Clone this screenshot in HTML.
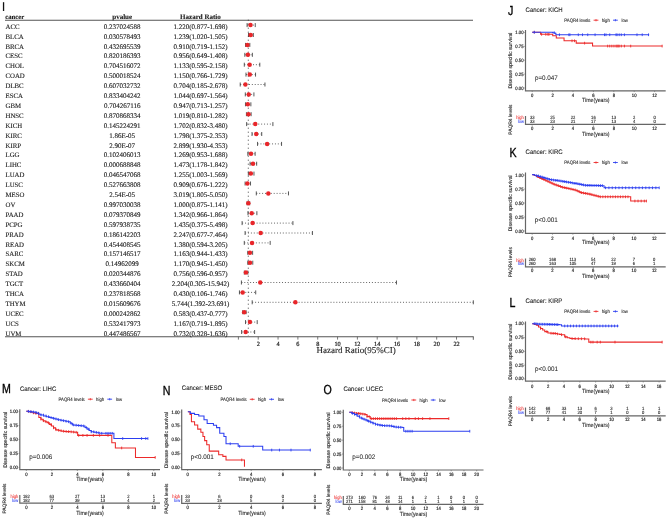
<!DOCTYPE html>
<html><head><meta charset="utf-8"><style>
html,body{margin:0;padding:0;background:#fff;width:668px;height:519px;overflow:hidden}
svg{display:block;filter:blur(0.3px)}
</style></head><body>
<svg width="668" height="519" viewBox="0 0 668 519" text-rendering="geometricPrecision">
<rect width="668" height="519" fill="#fff"/>
<rect x="2.9" y="2.2" width="1.3" height="8.8" fill="#111"/>
<g font-family='"Liberation Serif", serif' font-weight="bold" font-size="7.0" fill="#111" stroke="#111" stroke-width="0.08">
<text x="5.3" y="18.9" font-size="6.7">cancer</text>
<text x="122.2" y="18.9" text-anchor="middle">pvalue</text>
<text x="200.4" y="18.9" text-anchor="middle">Hazard Ratio</text>
</g>
<line x1="5" y1="20.3" x2="473" y2="20.3" stroke="#555" stroke-width="1.1"/>
<line x1="5" y1="336.7" x2="473.6" y2="336.7" stroke="#555" stroke-width="1.1"/>
<line x1="248.31" y1="19.7" x2="248.31" y2="336" stroke="#333" stroke-width="0.9" stroke-dasharray="1 3"/>
<g font-family='"Liberation Serif", serif' font-size="7.0" fill="#1a1a1a" stroke="#1a1a1a" stroke-width="0.12">
<text x="5.5" y="28.7" font-size="6.8">ACC</text>
<text x="122.2" y="28.7" text-anchor="middle">0.237024588</text>
<text x="200.5" y="28.7" text-anchor="middle">1.220(0.877-1.698)</text>
<text x="5.5" y="38.6" font-size="6.8">BLCA</text>
<text x="122.2" y="38.6" text-anchor="middle">0.030578493</text>
<text x="200.5" y="38.6" text-anchor="middle">1.239(1.020-1.505)</text>
<text x="5.5" y="48.5" font-size="6.8">BRCA</text>
<text x="122.2" y="48.5" text-anchor="middle">0.432695539</text>
<text x="200.5" y="48.5" text-anchor="middle">0.910(0.719-1.152)</text>
<text x="5.5" y="58.4" font-size="6.8">CESC</text>
<text x="122.2" y="58.4" text-anchor="middle">0.820186393</text>
<text x="200.5" y="58.4" text-anchor="middle">0.956(0.649-1.408)</text>
<text x="5.5" y="68.3" font-size="6.8">CHOL</text>
<text x="122.2" y="68.3" text-anchor="middle">0.704516072</text>
<text x="200.5" y="68.3" text-anchor="middle">1.133(0.595-2.158)</text>
<text x="5.5" y="78.2" font-size="6.8">COAD</text>
<text x="122.2" y="78.2" text-anchor="middle">0.500018524</text>
<text x="200.5" y="78.2" text-anchor="middle">1.150(0.766-1.729)</text>
<text x="5.5" y="88.1" font-size="6.8">DLBC</text>
<text x="122.2" y="88.1" text-anchor="middle">0.607032732</text>
<text x="200.5" y="88.1" text-anchor="middle">0.704(0.185-2.678)</text>
<text x="5.5" y="98" font-size="6.8">ESCA</text>
<text x="122.2" y="98" text-anchor="middle">0.833404242</text>
<text x="200.5" y="98" text-anchor="middle">1.044(0.697-1.564)</text>
<text x="5.5" y="107.9" font-size="6.8">GBM</text>
<text x="122.2" y="107.9" text-anchor="middle">0.704267116</text>
<text x="200.5" y="107.9" text-anchor="middle">0.947(0.713-1.257)</text>
<text x="5.5" y="117.8" font-size="6.8">HNSC</text>
<text x="122.2" y="117.8" text-anchor="middle">0.870868334</text>
<text x="200.5" y="117.8" text-anchor="middle">1.019(0.810-1.282)</text>
<text x="5.5" y="127.7" font-size="6.8">KICH</text>
<text x="122.2" y="127.7" text-anchor="middle">0.145224291</text>
<text x="200.5" y="127.7" text-anchor="middle">1.702(0.832-3.480)</text>
<text x="5.5" y="137.6" font-size="6.8">KIRC</text>
<text x="122.2" y="137.6" text-anchor="middle">1.86E-05</text>
<text x="200.5" y="137.6" text-anchor="middle">1.798(1.375-2.353)</text>
<text x="5.5" y="147.5" font-size="6.8">KIRP</text>
<text x="122.2" y="147.5" text-anchor="middle">2.90E-07</text>
<text x="200.5" y="147.5" text-anchor="middle">2.899(1.930-4.353)</text>
<text x="5.5" y="157.4" font-size="6.8">LGG</text>
<text x="122.2" y="157.4" text-anchor="middle">0.102406013</text>
<text x="200.5" y="157.4" text-anchor="middle">1.269(0.953-1.688)</text>
<text x="5.5" y="167.3" font-size="6.8">LIHC</text>
<text x="122.2" y="167.3" text-anchor="middle">0.000688848</text>
<text x="200.5" y="167.3" text-anchor="middle">1.473(1.178-1.842)</text>
<text x="5.5" y="177.2" font-size="6.8">LUAD</text>
<text x="122.2" y="177.2" text-anchor="middle">0.046547068</text>
<text x="200.5" y="177.2" text-anchor="middle">1.255(1.003-1.569)</text>
<text x="5.5" y="187.1" font-size="6.8">LUSC</text>
<text x="122.2" y="187.1" text-anchor="middle">0.527663808</text>
<text x="200.5" y="187.1" text-anchor="middle">0.909(0.676-1.222)</text>
<text x="5.5" y="197" font-size="6.8">MESO</text>
<text x="122.2" y="197" text-anchor="middle">2.54E-05</text>
<text x="200.5" y="197" text-anchor="middle">3.019(1.805-5.050)</text>
<text x="5.5" y="206.9" font-size="6.8">OV</text>
<text x="122.2" y="206.9" text-anchor="middle">0.997030038</text>
<text x="200.5" y="206.9" text-anchor="middle">1.000(0.875-1.141)</text>
<text x="5.5" y="216.8" font-size="6.8">PAAD</text>
<text x="122.2" y="216.8" text-anchor="middle">0.079370849</text>
<text x="200.5" y="216.8" text-anchor="middle">1.342(0.966-1.864)</text>
<text x="5.5" y="226.7" font-size="6.8">PCPG</text>
<text x="122.2" y="226.7" text-anchor="middle">0.597938735</text>
<text x="200.5" y="226.7" text-anchor="middle">1.435(0.375-5.498)</text>
<text x="5.5" y="236.6" font-size="6.8">PRAD</text>
<text x="122.2" y="236.6" text-anchor="middle">0.186142203</text>
<text x="200.5" y="236.6" text-anchor="middle">2.247(0.677-7.464)</text>
<text x="5.5" y="246.5" font-size="6.8">READ</text>
<text x="122.2" y="246.5" text-anchor="middle">0.454408545</text>
<text x="200.5" y="246.5" text-anchor="middle">1.380(0.594-3.205)</text>
<text x="5.5" y="256.4" font-size="6.8">SARC</text>
<text x="122.2" y="256.4" text-anchor="middle">0.157146517</text>
<text x="200.5" y="256.4" text-anchor="middle">1.163(0.944-1.433)</text>
<text x="5.5" y="266.3" font-size="6.8">SKCM</text>
<text x="122.2" y="266.3" text-anchor="middle">0.14962099</text>
<text x="200.5" y="266.3" text-anchor="middle">1.170(0.945-1.450)</text>
<text x="5.5" y="276.2" font-size="6.8">STAD</text>
<text x="122.2" y="276.2" text-anchor="middle">0.020344876</text>
<text x="200.5" y="276.2" text-anchor="middle">0.756(0.596-0.957)</text>
<text x="5.5" y="286.1" font-size="6.8">TGCT</text>
<text x="122.2" y="286.1" text-anchor="middle">0.433660404</text>
<text x="200.5" y="286.1" text-anchor="middle">2.204(0.305-15.942)</text>
<text x="5.5" y="296" font-size="6.8">THCA</text>
<text x="122.2" y="296" text-anchor="middle">0.237818568</text>
<text x="200.5" y="296" text-anchor="middle">0.430(0.106-1.746)</text>
<text x="5.5" y="305.9" font-size="6.8">THYM</text>
<text x="122.2" y="305.9" text-anchor="middle">0.015609676</text>
<text x="200.5" y="305.9" text-anchor="middle">5.744(1.392-23.691)</text>
<text x="5.5" y="315.8" font-size="6.8">UCEC</text>
<text x="122.2" y="315.8" text-anchor="middle">0.000242862</text>
<text x="200.5" y="315.8" text-anchor="middle">0.583(0.437-0.777)</text>
<text x="5.5" y="325.7" font-size="6.8">UCS</text>
<text x="122.2" y="325.7" text-anchor="middle">0.532417973</text>
<text x="200.5" y="325.7" text-anchor="middle">1.167(0.719-1.895)</text>
<text x="5.5" y="335.6" font-size="6.8">UVM</text>
<text x="122.2" y="335.6" text-anchor="middle">0.447486567</text>
<text x="200.5" y="335.6" text-anchor="middle">0.732(0.328-1.636)</text>
</g>
<line x1="247.1" y1="25.1" x2="255.24" y2="25.1" stroke="#555" stroke-width="0.9" stroke-dasharray="1 1.9"/>
<line x1="247.1" y1="23.1" x2="247.1" y2="27.1" stroke="#444" stroke-width="0.9"/>
<line x1="255.24" y1="23.1" x2="255.24" y2="27.1" stroke="#444" stroke-width="0.9"/>
<circle cx="250.5" cy="25.1" r="2.25" fill="#e8262a"/>
<line x1="248.51" y1="35" x2="253.32" y2="35" stroke="#555" stroke-width="0.9" stroke-dasharray="1 1.9"/>
<line x1="248.51" y1="33" x2="248.51" y2="37" stroke="#444" stroke-width="0.9"/>
<line x1="253.32" y1="33" x2="253.32" y2="37" stroke="#444" stroke-width="0.9"/>
<circle cx="250.68" cy="35" r="2.25" fill="#e8262a"/>
<line x1="245.53" y1="44.9" x2="249.82" y2="44.9" stroke="#555" stroke-width="0.9" stroke-dasharray="1 1.9"/>
<line x1="245.53" y1="42.9" x2="245.53" y2="46.9" stroke="#444" stroke-width="0.9"/>
<line x1="249.82" y1="42.9" x2="249.82" y2="46.9" stroke="#444" stroke-width="0.9"/>
<circle cx="247.42" cy="44.9" r="2.25" fill="#e8262a"/>
<line x1="244.83" y1="54.8" x2="252.36" y2="54.8" stroke="#555" stroke-width="0.9" stroke-dasharray="1 1.9"/>
<line x1="244.83" y1="52.8" x2="244.83" y2="56.8" stroke="#444" stroke-width="0.9"/>
<line x1="252.36" y1="52.8" x2="252.36" y2="56.8" stroke="#444" stroke-width="0.9"/>
<circle cx="247.88" cy="54.8" r="2.25" fill="#e8262a"/>
<line x1="244.3" y1="64.7" x2="259.8" y2="64.7" stroke="#555" stroke-width="0.9" stroke-dasharray="1 1.9"/>
<line x1="244.3" y1="62.7" x2="244.3" y2="66.7" stroke="#444" stroke-width="0.9"/>
<line x1="259.8" y1="62.7" x2="259.8" y2="66.7" stroke="#444" stroke-width="0.9"/>
<circle cx="249.63" cy="64.7" r="2.25" fill="#e8262a"/>
<line x1="245.99" y1="74.6" x2="255.54" y2="74.6" stroke="#555" stroke-width="0.9" stroke-dasharray="1 1.9"/>
<line x1="245.99" y1="72.6" x2="245.99" y2="76.6" stroke="#444" stroke-width="0.9"/>
<line x1="255.54" y1="72.6" x2="255.54" y2="76.6" stroke="#444" stroke-width="0.9"/>
<circle cx="249.8" cy="74.6" r="2.25" fill="#e8262a"/>
<line x1="240.23" y1="84.5" x2="264.95" y2="84.5" stroke="#555" stroke-width="0.9" stroke-dasharray="1 1.9"/>
<line x1="240.23" y1="82.5" x2="240.23" y2="86.5" stroke="#444" stroke-width="0.9"/>
<line x1="264.95" y1="82.5" x2="264.95" y2="86.5" stroke="#444" stroke-width="0.9"/>
<circle cx="245.38" cy="84.5" r="2.25" fill="#e8262a"/>
<line x1="245.31" y1="94.4" x2="253.91" y2="94.4" stroke="#555" stroke-width="0.9" stroke-dasharray="1 1.9"/>
<line x1="245.31" y1="92.4" x2="245.31" y2="96.4" stroke="#444" stroke-width="0.9"/>
<line x1="253.91" y1="92.4" x2="253.91" y2="96.4" stroke="#444" stroke-width="0.9"/>
<circle cx="248.75" cy="94.4" r="2.25" fill="#e8262a"/>
<line x1="245.47" y1="104.3" x2="250.86" y2="104.3" stroke="#555" stroke-width="0.9" stroke-dasharray="1 1.9"/>
<line x1="245.47" y1="102.3" x2="245.47" y2="106.3" stroke="#444" stroke-width="0.9"/>
<line x1="250.86" y1="102.3" x2="250.86" y2="106.3" stroke="#444" stroke-width="0.9"/>
<circle cx="247.79" cy="104.3" r="2.25" fill="#e8262a"/>
<line x1="246.43" y1="114.2" x2="251.11" y2="114.2" stroke="#555" stroke-width="0.9" stroke-dasharray="1 1.9"/>
<line x1="246.43" y1="112.2" x2="246.43" y2="116.2" stroke="#444" stroke-width="0.9"/>
<line x1="251.11" y1="112.2" x2="251.11" y2="116.2" stroke="#444" stroke-width="0.9"/>
<circle cx="248.5" cy="114.2" r="2.25" fill="#e8262a"/>
<line x1="246.65" y1="124.1" x2="272.9" y2="124.1" stroke="#555" stroke-width="0.9" stroke-dasharray="1 1.9"/>
<line x1="246.65" y1="122.1" x2="246.65" y2="126.1" stroke="#444" stroke-width="0.9"/>
<line x1="272.9" y1="122.1" x2="272.9" y2="126.1" stroke="#444" stroke-width="0.9"/>
<circle cx="255.28" cy="124.1" r="2.25" fill="#e8262a"/>
<line x1="252.03" y1="134" x2="261.73" y2="134" stroke="#555" stroke-width="0.9" stroke-dasharray="1 1.9"/>
<line x1="252.03" y1="132" x2="252.03" y2="136" stroke="#444" stroke-width="0.9"/>
<line x1="261.73" y1="132" x2="261.73" y2="136" stroke="#444" stroke-width="0.9"/>
<circle cx="256.23" cy="134" r="2.25" fill="#e8262a"/>
<line x1="257.54" y1="143.9" x2="281.56" y2="143.9" stroke="#555" stroke-width="0.9" stroke-dasharray="1 1.9"/>
<line x1="257.54" y1="141.9" x2="257.54" y2="145.9" stroke="#444" stroke-width="0.9"/>
<line x1="281.56" y1="141.9" x2="281.56" y2="145.9" stroke="#444" stroke-width="0.9"/>
<circle cx="267.14" cy="143.9" r="2.25" fill="#e8262a"/>
<line x1="247.85" y1="153.8" x2="255.14" y2="153.8" stroke="#555" stroke-width="0.9" stroke-dasharray="1 1.9"/>
<line x1="247.85" y1="151.8" x2="247.85" y2="155.8" stroke="#444" stroke-width="0.9"/>
<line x1="255.14" y1="151.8" x2="255.14" y2="155.8" stroke="#444" stroke-width="0.9"/>
<circle cx="250.98" cy="153.8" r="2.25" fill="#e8262a"/>
<line x1="250.08" y1="163.7" x2="256.66" y2="163.7" stroke="#555" stroke-width="0.9" stroke-dasharray="1 1.9"/>
<line x1="250.08" y1="161.7" x2="250.08" y2="165.7" stroke="#444" stroke-width="0.9"/>
<line x1="256.66" y1="161.7" x2="256.66" y2="165.7" stroke="#444" stroke-width="0.9"/>
<circle cx="253" cy="163.7" r="2.25" fill="#e8262a"/>
<line x1="248.34" y1="173.6" x2="253.96" y2="173.6" stroke="#555" stroke-width="0.9" stroke-dasharray="1 1.9"/>
<line x1="248.34" y1="171.6" x2="248.34" y2="175.6" stroke="#444" stroke-width="0.9"/>
<line x1="253.96" y1="171.6" x2="253.96" y2="175.6" stroke="#444" stroke-width="0.9"/>
<circle cx="250.84" cy="173.6" r="2.25" fill="#e8262a"/>
<line x1="245.1" y1="183.5" x2="250.52" y2="183.5" stroke="#555" stroke-width="0.9" stroke-dasharray="1 1.9"/>
<line x1="245.1" y1="181.5" x2="245.1" y2="185.5" stroke="#444" stroke-width="0.9"/>
<line x1="250.52" y1="181.5" x2="250.52" y2="185.5" stroke="#444" stroke-width="0.9"/>
<circle cx="247.41" cy="183.5" r="2.25" fill="#e8262a"/>
<line x1="256.3" y1="193.4" x2="288.47" y2="193.4" stroke="#555" stroke-width="0.9" stroke-dasharray="1 1.9"/>
<line x1="256.3" y1="191.4" x2="256.3" y2="195.4" stroke="#444" stroke-width="0.9"/>
<line x1="288.47" y1="191.4" x2="288.47" y2="195.4" stroke="#444" stroke-width="0.9"/>
<circle cx="268.33" cy="193.4" r="2.25" fill="#e8262a"/>
<line x1="247.08" y1="203.3" x2="249.71" y2="203.3" stroke="#555" stroke-width="0.9" stroke-dasharray="1 1.9"/>
<line x1="247.08" y1="201.3" x2="247.08" y2="205.3" stroke="#444" stroke-width="0.9"/>
<line x1="249.71" y1="201.3" x2="249.71" y2="205.3" stroke="#444" stroke-width="0.9"/>
<circle cx="248.31" cy="203.3" r="2.25" fill="#e8262a"/>
<line x1="247.98" y1="213.2" x2="256.88" y2="213.2" stroke="#555" stroke-width="0.9" stroke-dasharray="1 1.9"/>
<line x1="247.98" y1="211.2" x2="247.98" y2="215.2" stroke="#444" stroke-width="0.9"/>
<line x1="256.88" y1="211.2" x2="256.88" y2="215.2" stroke="#444" stroke-width="0.9"/>
<circle cx="251.71" cy="213.2" r="2.25" fill="#e8262a"/>
<line x1="242.12" y1="223.1" x2="292.91" y2="223.1" stroke="#555" stroke-width="0.9" stroke-dasharray="1 1.9"/>
<line x1="242.12" y1="221.1" x2="242.12" y2="225.1" stroke="#444" stroke-width="0.9"/>
<line x1="292.91" y1="221.1" x2="292.91" y2="225.1" stroke="#444" stroke-width="0.9"/>
<circle cx="252.63" cy="223.1" r="2.25" fill="#e8262a"/>
<line x1="245.11" y1="233" x2="312.41" y2="233" stroke="#555" stroke-width="0.9" stroke-dasharray="1 1.9"/>
<line x1="245.11" y1="231" x2="245.11" y2="235" stroke="#444" stroke-width="0.9"/>
<line x1="312.41" y1="231" x2="312.41" y2="235" stroke="#444" stroke-width="0.9"/>
<circle cx="260.68" cy="233" r="2.25" fill="#e8262a"/>
<line x1="244.29" y1="242.9" x2="270.18" y2="242.9" stroke="#555" stroke-width="0.9" stroke-dasharray="1 1.9"/>
<line x1="244.29" y1="240.9" x2="244.29" y2="244.9" stroke="#444" stroke-width="0.9"/>
<line x1="270.18" y1="240.9" x2="270.18" y2="244.9" stroke="#444" stroke-width="0.9"/>
<circle cx="252.08" cy="242.9" r="2.25" fill="#e8262a"/>
<line x1="247.76" y1="252.8" x2="252.61" y2="252.8" stroke="#555" stroke-width="0.9" stroke-dasharray="1 1.9"/>
<line x1="247.76" y1="250.8" x2="247.76" y2="254.8" stroke="#444" stroke-width="0.9"/>
<line x1="252.61" y1="250.8" x2="252.61" y2="254.8" stroke="#444" stroke-width="0.9"/>
<circle cx="249.93" cy="252.8" r="2.25" fill="#e8262a"/>
<line x1="247.77" y1="262.7" x2="252.78" y2="262.7" stroke="#555" stroke-width="0.9" stroke-dasharray="1 1.9"/>
<line x1="247.77" y1="260.7" x2="247.77" y2="264.7" stroke="#444" stroke-width="0.9"/>
<line x1="252.78" y1="260.7" x2="252.78" y2="264.7" stroke="#444" stroke-width="0.9"/>
<circle cx="250" cy="262.7" r="2.25" fill="#e8262a"/>
<line x1="244.31" y1="272.6" x2="247.89" y2="272.6" stroke="#555" stroke-width="0.9" stroke-dasharray="1 1.9"/>
<line x1="244.31" y1="270.6" x2="244.31" y2="274.6" stroke="#444" stroke-width="0.9"/>
<line x1="247.89" y1="270.6" x2="247.89" y2="274.6" stroke="#444" stroke-width="0.9"/>
<circle cx="245.9" cy="272.6" r="2.25" fill="#e8262a"/>
<line x1="241.42" y1="282.5" x2="396.46" y2="282.5" stroke="#555" stroke-width="0.9" stroke-dasharray="1 1.9"/>
<line x1="241.42" y1="280.5" x2="241.42" y2="284.5" stroke="#444" stroke-width="0.9"/>
<line x1="396.46" y1="280.5" x2="396.46" y2="284.5" stroke="#444" stroke-width="0.9"/>
<circle cx="260.25" cy="282.5" r="2.25" fill="#e8262a"/>
<line x1="239.45" y1="292.4" x2="255.71" y2="292.4" stroke="#555" stroke-width="0.9" stroke-dasharray="1 1.9"/>
<line x1="239.45" y1="290.4" x2="239.45" y2="294.4" stroke="#444" stroke-width="0.9"/>
<line x1="255.71" y1="290.4" x2="255.71" y2="294.4" stroke="#444" stroke-width="0.9"/>
<circle cx="242.66" cy="292.4" r="2.25" fill="#e8262a"/>
<line x1="252.2" y1="302.3" x2="473.3" y2="302.3" stroke="#555" stroke-width="0.9" stroke-dasharray="1 1.9"/>
<line x1="252.2" y1="300.3" x2="252.2" y2="304.3" stroke="#444" stroke-width="0.9"/>
<line x1="473.3" y1="300.3" x2="473.3" y2="304.3" stroke="#444" stroke-width="0.9"/>
<circle cx="295.35" cy="302.3" r="2.25" fill="#e8262a"/>
<line x1="242.73" y1="312.2" x2="246.1" y2="312.2" stroke="#555" stroke-width="0.9" stroke-dasharray="1 1.9"/>
<line x1="242.73" y1="310.2" x2="242.73" y2="314.2" stroke="#444" stroke-width="0.9"/>
<line x1="246.1" y1="310.2" x2="246.1" y2="314.2" stroke="#444" stroke-width="0.9"/>
<circle cx="244.18" cy="312.2" r="2.25" fill="#e8262a"/>
<line x1="245.53" y1="322.1" x2="257.19" y2="322.1" stroke="#555" stroke-width="0.9" stroke-dasharray="1 1.9"/>
<line x1="245.53" y1="320.1" x2="245.53" y2="324.1" stroke="#444" stroke-width="0.9"/>
<line x1="257.19" y1="320.1" x2="257.19" y2="324.1" stroke="#444" stroke-width="0.9"/>
<circle cx="249.97" cy="322.1" r="2.25" fill="#e8262a"/>
<line x1="241.65" y1="332" x2="254.62" y2="332" stroke="#555" stroke-width="0.9" stroke-dasharray="1 1.9"/>
<line x1="241.65" y1="330" x2="241.65" y2="334" stroke="#444" stroke-width="0.9"/>
<line x1="254.62" y1="330" x2="254.62" y2="334" stroke="#444" stroke-width="0.9"/>
<circle cx="245.66" cy="332" r="2.25" fill="#e8262a"/>
<line x1="238.4" y1="336.7" x2="238.4" y2="339.6" stroke="#555" stroke-width="0.8"/>
<line x1="258.23" y1="336.7" x2="258.23" y2="339.6" stroke="#555" stroke-width="0.8"/>
<line x1="278.06" y1="336.7" x2="278.06" y2="339.6" stroke="#555" stroke-width="0.8"/>
<line x1="297.89" y1="336.7" x2="297.89" y2="339.6" stroke="#555" stroke-width="0.8"/>
<line x1="317.72" y1="336.7" x2="317.72" y2="339.6" stroke="#555" stroke-width="0.8"/>
<line x1="337.55" y1="336.7" x2="337.55" y2="339.6" stroke="#555" stroke-width="0.8"/>
<line x1="357.38" y1="336.7" x2="357.38" y2="339.6" stroke="#555" stroke-width="0.8"/>
<line x1="377.21" y1="336.7" x2="377.21" y2="339.6" stroke="#555" stroke-width="0.8"/>
<line x1="397.04" y1="336.7" x2="397.04" y2="339.6" stroke="#555" stroke-width="0.8"/>
<line x1="416.87" y1="336.7" x2="416.87" y2="339.6" stroke="#555" stroke-width="0.8"/>
<line x1="436.7" y1="336.7" x2="436.7" y2="339.6" stroke="#555" stroke-width="0.8"/>
<line x1="456.53" y1="336.7" x2="456.53" y2="339.6" stroke="#555" stroke-width="0.8"/>
<line x1="473.3" y1="336.7" x2="473.3" y2="339.8" stroke="#333" stroke-width="0.8"/>
<g font-family='"Liberation Serif", serif' font-size="6.3" fill="#222" stroke="#222" stroke-width="0.2" text-anchor="middle">
<text x="258.23" y="346.2">2</text>
<text x="278.06" y="346.2">4</text>
<text x="297.89" y="346.2">6</text>
<text x="317.72" y="346.2">8</text>
<text x="337.55" y="346.2">10</text>
<text x="357.38" y="346.2">12</text>
<text x="377.21" y="346.2">14</text>
<text x="397.04" y="346.2">16</text>
<text x="416.87" y="346.2">18</text>
<text x="436.7" y="346.2">20</text>
<text x="456.53" y="346.2">22</text>
</g>
<text x="356.2" y="353.2" font-family='"Liberation Serif", serif' font-size="9" fill="#222" stroke="#222" stroke-width="0.1" text-anchor="middle">Hazard Ratio(95%CI)</text>
<g font-family='"Liberation Sans", sans-serif'>
<text transform="translate(508,15) scale(0.95,1.17)" font-size="11.2" fill="#000" stroke="#000" stroke-width="0.3">J</text>
<text transform="translate(525.6,11.5) scale(1,1.1)" font-size="6.0" fill="#222" stroke="#222" stroke-width="0.1">Cancer: KICH</text>
<text transform="translate(564.3,21.7) scale(1,1.15)" font-size="4.25" fill="#222" stroke="#222" stroke-width="0.08">PAQR4 levels</text>
<text transform="translate(601.8,21.7) scale(1,1.15)" font-size="4.25" fill="#222" stroke="#222" stroke-width="0.08">high</text>
<text transform="translate(621.5,21.7) scale(1,1.15)" font-size="4.25" fill="#222" stroke="#222" stroke-width="0.08">low</text>
<line x1="593.6" y1="20.2" x2="598.4" y2="20.2" stroke="#ec2a2a" stroke-width="0.9"/>
<line x1="596" y1="19.1" x2="596" y2="21.3" stroke="#ec2a2a" stroke-width="0.8"/>
<line x1="613" y1="20.2" x2="617.8" y2="20.2" stroke="#2c3ff0" stroke-width="0.9"/>
<line x1="615.4" y1="19.1" x2="615.4" y2="21.3" stroke="#2c3ff0" stroke-width="0.8"/>
<path d="M525.5 30 L525.5 90.8 L665.7 90.8" fill="none" stroke="#666" stroke-width="1.2"/>
<text transform="translate(523.5,89.5) scale(1,1.15)" font-size="4.2" fill="#222" stroke="#222" stroke-width="0.16" text-anchor="end">0.00</text>
<line x1="524.2" y1="88" x2="525.5" y2="88" stroke="#666" stroke-width="0.6"/>
<text transform="translate(523.5,75.62) scale(1,1.15)" font-size="4.2" fill="#222" stroke="#222" stroke-width="0.16" text-anchor="end">0.25</text>
<line x1="524.2" y1="74.12" x2="525.5" y2="74.12" stroke="#666" stroke-width="0.6"/>
<text transform="translate(523.5,61.75) scale(1,1.15)" font-size="4.2" fill="#222" stroke="#222" stroke-width="0.16" text-anchor="end">0.50</text>
<line x1="524.2" y1="60.25" x2="525.5" y2="60.25" stroke="#666" stroke-width="0.6"/>
<text transform="translate(523.5,47.88) scale(1,1.15)" font-size="4.2" fill="#222" stroke="#222" stroke-width="0.16" text-anchor="end">0.75</text>
<line x1="524.2" y1="46.38" x2="525.5" y2="46.38" stroke="#666" stroke-width="0.6"/>
<text transform="translate(523.5,34) scale(1,1.15)" font-size="4.2" fill="#222" stroke="#222" stroke-width="0.16" text-anchor="end">1.00</text>
<line x1="524.2" y1="32.5" x2="525.5" y2="32.5" stroke="#666" stroke-width="0.6"/>
<text transform="translate(532.2,96.6) scale(1,1.15)" font-size="4.2" fill="#222" stroke="#222" stroke-width="0.16" text-anchor="middle">0</text>
<line x1="532.2" y1="90.8" x2="532.2" y2="92.1" stroke="#666" stroke-width="0.6"/>
<text transform="translate(552.6,96.6) scale(1,1.15)" font-size="4.2" fill="#222" stroke="#222" stroke-width="0.16" text-anchor="middle">2</text>
<line x1="552.6" y1="90.8" x2="552.6" y2="92.1" stroke="#666" stroke-width="0.6"/>
<text transform="translate(573,96.6) scale(1,1.15)" font-size="4.2" fill="#222" stroke="#222" stroke-width="0.16" text-anchor="middle">4</text>
<line x1="573" y1="90.8" x2="573" y2="92.1" stroke="#666" stroke-width="0.6"/>
<text transform="translate(593.4,96.6) scale(1,1.15)" font-size="4.2" fill="#222" stroke="#222" stroke-width="0.16" text-anchor="middle">6</text>
<line x1="593.4" y1="90.8" x2="593.4" y2="92.1" stroke="#666" stroke-width="0.6"/>
<text transform="translate(613.8,96.6) scale(1,1.15)" font-size="4.2" fill="#222" stroke="#222" stroke-width="0.16" text-anchor="middle">8</text>
<line x1="613.8" y1="90.8" x2="613.8" y2="92.1" stroke="#666" stroke-width="0.6"/>
<text transform="translate(634.2,96.6) scale(1,1.15)" font-size="4.2" fill="#222" stroke="#222" stroke-width="0.16" text-anchor="middle">10</text>
<line x1="634.2" y1="90.8" x2="634.2" y2="92.1" stroke="#666" stroke-width="0.6"/>
<text transform="translate(654.6,96.6) scale(1,1.15)" font-size="4.2" fill="#222" stroke="#222" stroke-width="0.16" text-anchor="middle">12</text>
<line x1="654.6" y1="90.8" x2="654.6" y2="92.1" stroke="#666" stroke-width="0.6"/>
<text transform="translate(595.8,101.9) scale(1,1.15)" font-size="5.2" fill="#222" stroke="#222" stroke-width="0.08" text-anchor="middle">Time(years)</text>
<text transform="translate(512.2,60.55) rotate(-90) scale(1,1)" font-size="5.15" fill="#222" stroke="#222" stroke-width="0.12" text-anchor="middle">Disease specific survival</text>
<text transform="translate(534.9,79.6) scale(1,1.05)" font-size="6.3" fill="#222" stroke="#222" stroke-width="0.05">p=0.047</text>
<path d="M532.19 32.24 L540.58 32.24 L540.58 34.34 L552.73 34.34 L552.73 35.8 L556.3 35.8 L556.3 37.9 L564.05 37.9 L564.05 40.83 L576.21 40.83 L576.21 43.14 L592.56 43.14 L592.56 46.07 L662.14 46.07" fill="none" stroke="#ec2a2a" stroke-width="1.05"/>
<line x1="534.29" y1="30.89" x2="534.29" y2="33.59" stroke="#ec2a2a" stroke-width="0.9"/>
<line x1="541.62" y1="32.99" x2="541.62" y2="35.69" stroke="#ec2a2a" stroke-width="0.9"/>
<line x1="545.82" y1="32.99" x2="545.82" y2="35.69" stroke="#ec2a2a" stroke-width="0.9"/>
<line x1="547.91" y1="32.99" x2="547.91" y2="35.69" stroke="#ec2a2a" stroke-width="0.9"/>
<line x1="548.96" y1="32.99" x2="548.96" y2="35.69" stroke="#ec2a2a" stroke-width="0.9"/>
<line x1="572.02" y1="39.48" x2="572.02" y2="42.18" stroke="#ec2a2a" stroke-width="0.9"/>
<line x1="574.53" y1="39.48" x2="574.53" y2="42.18" stroke="#ec2a2a" stroke-width="0.9"/>
<line x1="584.59" y1="41.79" x2="584.59" y2="44.49" stroke="#ec2a2a" stroke-width="0.9"/>
<line x1="607.65" y1="44.72" x2="607.65" y2="47.42" stroke="#ec2a2a" stroke-width="0.9"/>
<line x1="609.74" y1="44.72" x2="609.74" y2="47.42" stroke="#ec2a2a" stroke-width="0.9"/>
<line x1="611.84" y1="44.72" x2="611.84" y2="47.42" stroke="#ec2a2a" stroke-width="0.9"/>
<line x1="613.94" y1="44.72" x2="613.94" y2="47.42" stroke="#ec2a2a" stroke-width="0.9"/>
<line x1="616.03" y1="44.72" x2="616.03" y2="47.42" stroke="#ec2a2a" stroke-width="0.9"/>
<line x1="617.08" y1="44.72" x2="617.08" y2="47.42" stroke="#ec2a2a" stroke-width="0.9"/>
<line x1="618.13" y1="44.72" x2="618.13" y2="47.42" stroke="#ec2a2a" stroke-width="0.9"/>
<line x1="619.18" y1="44.72" x2="619.18" y2="47.42" stroke="#ec2a2a" stroke-width="0.9"/>
<line x1="621.27" y1="44.72" x2="621.27" y2="47.42" stroke="#ec2a2a" stroke-width="0.9"/>
<line x1="624.42" y1="44.72" x2="624.42" y2="47.42" stroke="#ec2a2a" stroke-width="0.9"/>
<line x1="630.7" y1="44.72" x2="630.7" y2="47.42" stroke="#ec2a2a" stroke-width="0.9"/>
<line x1="662.14" y1="44.72" x2="662.14" y2="47.42" stroke="#ec2a2a" stroke-width="0.9"/>
<path d="M532.19 32.24 L552.73 32.24 L552.73 32.66 L554.83 32.66 L554.83 33.29 L555.88 33.29 L555.88 34.76 L649.15 34.76" fill="none" stroke="#2c3ff0" stroke-width="1.05"/>
<line x1="534.29" y1="30.89" x2="534.29" y2="33.59" stroke="#2c3ff0" stroke-width="0.9"/>
<line x1="554.2" y1="31.31" x2="554.2" y2="34.01" stroke="#2c3ff0" stroke-width="0.9"/>
<line x1="559.44" y1="33.41" x2="559.44" y2="36.11" stroke="#2c3ff0" stroke-width="0.9"/>
<line x1="568.87" y1="33.41" x2="568.87" y2="36.11" stroke="#2c3ff0" stroke-width="0.9"/>
<line x1="569.92" y1="33.41" x2="569.92" y2="36.11" stroke="#2c3ff0" stroke-width="0.9"/>
<line x1="578.3" y1="33.41" x2="578.3" y2="36.11" stroke="#2c3ff0" stroke-width="0.9"/>
<line x1="582.5" y1="33.41" x2="582.5" y2="36.11" stroke="#2c3ff0" stroke-width="0.9"/>
<line x1="587.74" y1="33.41" x2="587.74" y2="36.11" stroke="#2c3ff0" stroke-width="0.9"/>
<line x1="595.07" y1="33.41" x2="595.07" y2="36.11" stroke="#2c3ff0" stroke-width="0.9"/>
<line x1="604.5" y1="33.41" x2="604.5" y2="36.11" stroke="#2c3ff0" stroke-width="0.9"/>
<line x1="605.97" y1="33.41" x2="605.97" y2="36.11" stroke="#2c3ff0" stroke-width="0.9"/>
<line x1="609.74" y1="33.41" x2="609.74" y2="36.11" stroke="#2c3ff0" stroke-width="0.9"/>
<line x1="616.03" y1="33.41" x2="616.03" y2="36.11" stroke="#2c3ff0" stroke-width="0.9"/>
<line x1="617.08" y1="33.41" x2="617.08" y2="36.11" stroke="#2c3ff0" stroke-width="0.9"/>
<line x1="619.18" y1="33.41" x2="619.18" y2="36.11" stroke="#2c3ff0" stroke-width="0.9"/>
<line x1="621.27" y1="33.41" x2="621.27" y2="36.11" stroke="#2c3ff0" stroke-width="0.9"/>
<line x1="624.42" y1="33.41" x2="624.42" y2="36.11" stroke="#2c3ff0" stroke-width="0.9"/>
<line x1="636.99" y1="33.41" x2="636.99" y2="36.11" stroke="#2c3ff0" stroke-width="0.9"/>
<line x1="642.23" y1="33.41" x2="642.23" y2="36.11" stroke="#2c3ff0" stroke-width="0.9"/>
<line x1="648.52" y1="33.41" x2="648.52" y2="36.11" stroke="#2c3ff0" stroke-width="0.9"/>
<path d="M525.5 116 L525.5 124.3 L665.7 124.3" fill="none" stroke="#666" stroke-width="1.2"/>
<text transform="translate(523.9,118.95) scale(1,1.15)" font-size="4.1" fill="#ec2a2a" stroke="#ec2a2a" stroke-width="0.06" text-anchor="end">high</text>
<text transform="translate(523.9,122.75) scale(1,1.15)" font-size="4.1" fill="#2c3ff0" stroke="#2c3ff0" stroke-width="0.06" text-anchor="end">low</text>
<text transform="translate(532.2,118.85) scale(1,1.15)" font-size="4.1" fill="#222" stroke="#222" stroke-width="0.1" text-anchor="middle">33</text>
<text transform="translate(532.2,122.65) scale(1,1.15)" font-size="4.1" fill="#222" stroke="#222" stroke-width="0.1" text-anchor="middle">33</text>
<line x1="532.2" y1="124.3" x2="532.2" y2="125.6" stroke="#666" stroke-width="0.6"/>
<text transform="translate(532.2,129.6) scale(1,1.15)" font-size="4.2" fill="#222" stroke="#222" stroke-width="0.16" text-anchor="middle">0</text>
<text transform="translate(552.6,118.85) scale(1,1.15)" font-size="4.1" fill="#222" stroke="#222" stroke-width="0.1" text-anchor="middle">25</text>
<text transform="translate(552.6,122.65) scale(1,1.15)" font-size="4.1" fill="#222" stroke="#222" stroke-width="0.1" text-anchor="middle">23</text>
<line x1="552.6" y1="124.3" x2="552.6" y2="125.6" stroke="#666" stroke-width="0.6"/>
<text transform="translate(552.6,129.6) scale(1,1.15)" font-size="4.2" fill="#222" stroke="#222" stroke-width="0.16" text-anchor="middle">2</text>
<text transform="translate(573,118.85) scale(1,1.15)" font-size="4.1" fill="#222" stroke="#222" stroke-width="0.1" text-anchor="middle">22</text>
<text transform="translate(573,122.65) scale(1,1.15)" font-size="4.1" fill="#222" stroke="#222" stroke-width="0.1" text-anchor="middle">21</text>
<line x1="573" y1="124.3" x2="573" y2="125.6" stroke="#666" stroke-width="0.6"/>
<text transform="translate(573,129.6) scale(1,1.15)" font-size="4.2" fill="#222" stroke="#222" stroke-width="0.16" text-anchor="middle">4</text>
<text transform="translate(593.4,118.85) scale(1,1.15)" font-size="4.1" fill="#222" stroke="#222" stroke-width="0.1" text-anchor="middle">16</text>
<text transform="translate(593.4,122.65) scale(1,1.15)" font-size="4.1" fill="#222" stroke="#222" stroke-width="0.1" text-anchor="middle">17</text>
<line x1="593.4" y1="124.3" x2="593.4" y2="125.6" stroke="#666" stroke-width="0.6"/>
<text transform="translate(593.4,129.6) scale(1,1.15)" font-size="4.2" fill="#222" stroke="#222" stroke-width="0.16" text-anchor="middle">6</text>
<text transform="translate(613.8,118.85) scale(1,1.15)" font-size="4.1" fill="#222" stroke="#222" stroke-width="0.1" text-anchor="middle">13</text>
<text transform="translate(613.8,122.65) scale(1,1.15)" font-size="4.1" fill="#222" stroke="#222" stroke-width="0.1" text-anchor="middle">13</text>
<line x1="613.8" y1="124.3" x2="613.8" y2="125.6" stroke="#666" stroke-width="0.6"/>
<text transform="translate(613.8,129.6) scale(1,1.15)" font-size="4.2" fill="#222" stroke="#222" stroke-width="0.16" text-anchor="middle">8</text>
<text transform="translate(634.2,118.85) scale(1,1.15)" font-size="4.1" fill="#222" stroke="#222" stroke-width="0.1" text-anchor="middle">2</text>
<text transform="translate(634.2,122.65) scale(1,1.15)" font-size="4.1" fill="#222" stroke="#222" stroke-width="0.1" text-anchor="middle">4</text>
<line x1="634.2" y1="124.3" x2="634.2" y2="125.6" stroke="#666" stroke-width="0.6"/>
<text transform="translate(634.2,129.6) scale(1,1.15)" font-size="4.2" fill="#222" stroke="#222" stroke-width="0.16" text-anchor="middle">10</text>
<text transform="translate(654.6,118.85) scale(1,1.15)" font-size="4.1" fill="#222" stroke="#222" stroke-width="0.1" text-anchor="middle">0</text>
<text transform="translate(654.6,122.65) scale(1,1.15)" font-size="4.1" fill="#222" stroke="#222" stroke-width="0.1" text-anchor="middle">0</text>
<line x1="654.6" y1="124.3" x2="654.6" y2="125.6" stroke="#666" stroke-width="0.6"/>
<text transform="translate(654.6,129.6) scale(1,1.15)" font-size="4.2" fill="#222" stroke="#222" stroke-width="0.16" text-anchor="middle">12</text>
<text transform="translate(595.8,135.7) scale(1,1.15)" font-size="5.2" fill="#222" stroke="#222" stroke-width="0.08" text-anchor="middle">Time(years)</text>
<text transform="translate(511.9,119.6) rotate(-90) scale(1,1)" font-size="4.9" fill="#222" stroke="#222" stroke-width="0.12" text-anchor="middle">PAQR4 levels</text>
</g>
<g font-family='"Liberation Sans", sans-serif'>
<text transform="translate(509.6,157) scale(0.95,1.17)" font-size="11.2" fill="#000" stroke="#000" stroke-width="0.3">K</text>
<text transform="translate(525.6,153.8) scale(1,1.1)" font-size="6.0" fill="#222" stroke="#222" stroke-width="0.1">Cancer: KIRC</text>
<text transform="translate(564.3,164) scale(1,1.15)" font-size="4.25" fill="#222" stroke="#222" stroke-width="0.08">PAQR4 levels</text>
<text transform="translate(601.8,164) scale(1,1.15)" font-size="4.25" fill="#222" stroke="#222" stroke-width="0.08">high</text>
<text transform="translate(621.5,164) scale(1,1.15)" font-size="4.25" fill="#222" stroke="#222" stroke-width="0.08">low</text>
<line x1="593.6" y1="162.5" x2="598.4" y2="162.5" stroke="#ec2a2a" stroke-width="0.9"/>
<line x1="596" y1="161.4" x2="596" y2="163.6" stroke="#ec2a2a" stroke-width="0.8"/>
<line x1="613" y1="162.5" x2="617.8" y2="162.5" stroke="#2c3ff0" stroke-width="0.9"/>
<line x1="615.4" y1="161.4" x2="615.4" y2="163.6" stroke="#2c3ff0" stroke-width="0.8"/>
<path d="M525.5 172.6 L525.5 233.4 L665.7 233.4" fill="none" stroke="#666" stroke-width="1.2"/>
<text transform="translate(523.5,232.5) scale(1,1.15)" font-size="4.2" fill="#222" stroke="#222" stroke-width="0.16" text-anchor="end">0.00</text>
<line x1="524.2" y1="231" x2="525.5" y2="231" stroke="#666" stroke-width="0.6"/>
<text transform="translate(523.5,218.53) scale(1,1.15)" font-size="4.2" fill="#222" stroke="#222" stroke-width="0.16" text-anchor="end">0.25</text>
<line x1="524.2" y1="217.03" x2="525.5" y2="217.03" stroke="#666" stroke-width="0.6"/>
<text transform="translate(523.5,204.55) scale(1,1.15)" font-size="4.2" fill="#222" stroke="#222" stroke-width="0.16" text-anchor="end">0.50</text>
<line x1="524.2" y1="203.05" x2="525.5" y2="203.05" stroke="#666" stroke-width="0.6"/>
<text transform="translate(523.5,190.57) scale(1,1.15)" font-size="4.2" fill="#222" stroke="#222" stroke-width="0.16" text-anchor="end">0.75</text>
<line x1="524.2" y1="189.07" x2="525.5" y2="189.07" stroke="#666" stroke-width="0.6"/>
<text transform="translate(523.5,176.6) scale(1,1.15)" font-size="4.2" fill="#222" stroke="#222" stroke-width="0.16" text-anchor="end">1.00</text>
<line x1="524.2" y1="175.1" x2="525.5" y2="175.1" stroke="#666" stroke-width="0.6"/>
<text transform="translate(532.2,239.6) scale(1,1.15)" font-size="4.2" fill="#222" stroke="#222" stroke-width="0.16" text-anchor="middle">0</text>
<line x1="532.2" y1="233.4" x2="532.2" y2="234.7" stroke="#666" stroke-width="0.6"/>
<text transform="translate(552.54,239.6) scale(1,1.15)" font-size="4.2" fill="#222" stroke="#222" stroke-width="0.16" text-anchor="middle">2</text>
<line x1="552.54" y1="233.4" x2="552.54" y2="234.7" stroke="#666" stroke-width="0.6"/>
<text transform="translate(572.88,239.6) scale(1,1.15)" font-size="4.2" fill="#222" stroke="#222" stroke-width="0.16" text-anchor="middle">4</text>
<line x1="572.88" y1="233.4" x2="572.88" y2="234.7" stroke="#666" stroke-width="0.6"/>
<text transform="translate(593.22,239.6) scale(1,1.15)" font-size="4.2" fill="#222" stroke="#222" stroke-width="0.16" text-anchor="middle">6</text>
<line x1="593.22" y1="233.4" x2="593.22" y2="234.7" stroke="#666" stroke-width="0.6"/>
<text transform="translate(613.56,239.6) scale(1,1.15)" font-size="4.2" fill="#222" stroke="#222" stroke-width="0.16" text-anchor="middle">8</text>
<line x1="613.56" y1="233.4" x2="613.56" y2="234.7" stroke="#666" stroke-width="0.6"/>
<text transform="translate(633.9,239.6) scale(1,1.15)" font-size="4.2" fill="#222" stroke="#222" stroke-width="0.16" text-anchor="middle">10</text>
<line x1="633.9" y1="233.4" x2="633.9" y2="234.7" stroke="#666" stroke-width="0.6"/>
<text transform="translate(654.24,239.6) scale(1,1.15)" font-size="4.2" fill="#222" stroke="#222" stroke-width="0.16" text-anchor="middle">12</text>
<line x1="654.24" y1="233.4" x2="654.24" y2="234.7" stroke="#666" stroke-width="0.6"/>
<text transform="translate(595.8,244) scale(1,1.15)" font-size="5.2" fill="#222" stroke="#222" stroke-width="0.08" text-anchor="middle">Time(years)</text>
<text transform="translate(512.2,203.35) rotate(-90) scale(1,1)" font-size="5.15" fill="#222" stroke="#222" stroke-width="0.12" text-anchor="middle">Disease specific survival</text>
<text transform="translate(534.7,222.1) scale(1,1.05)" font-size="6.3" fill="#222" stroke="#222" stroke-width="0.05">p&lt;0.001</text>
<path d="M532.19 174.61 L534.29 174.61 L534.29 175.55 L536.38 175.55 L536.38 176.5 L538.48 176.5 L538.48 177.44 L540.58 177.44 L540.58 178.38 L542.67 178.38 L542.67 179.36 L544.77 179.36 L544.77 180.34 L546.86 180.34 L546.86 181.32 L548.96 181.32 L548.96 182.3 L551.06 182.3 L551.06 183.27 L553.15 183.27 L553.15 184.25 L555.25 184.25 L555.25 184.99 L557.34 184.99 L557.34 185.72 L559.44 185.72 L559.44 186.45 L561.54 186.45 L561.54 187.19 L563.63 187.19 L563.63 187.64 L565.73 187.64 L565.73 188.1 L567.82 188.1 L567.82 188.55 L569.92 188.55 L569.92 189 L572.02 189 L572.02 189.46 L574.11 189.46 L574.11 189.91 L576.21 189.91 L576.21 190.82 L578.3 190.82 L578.3 191.73 L580.4 191.73 L580.4 192.64 L582.5 192.64 L582.5 193 L584.59 193 L584.59 193.37 L586.69 193.37 L586.69 193.74 L588.78 193.74 L588.78 194.1 L590.88 194.1 L590.88 194.65 L592.98 194.65 L592.98 195.19 L595.07 195.19 L595.07 195.74 L597.17 195.74 L597.17 196.28 L599.26 196.28 L599.26 196.83 L630.7 196.83 L630.7 201.02 L646.42 201.02" fill="none" stroke="#ec2a2a" stroke-width="1.05"/>
<line x1="537.43" y1="175.15" x2="537.43" y2="177.85" stroke="#ec2a2a" stroke-width="0.9"/>
<line x1="539.53" y1="176.09" x2="539.53" y2="178.79" stroke="#ec2a2a" stroke-width="0.9"/>
<line x1="541.62" y1="177.03" x2="541.62" y2="179.73" stroke="#ec2a2a" stroke-width="0.9"/>
<line x1="543.72" y1="178.01" x2="543.72" y2="180.71" stroke="#ec2a2a" stroke-width="0.9"/>
<line x1="545.82" y1="178.99" x2="545.82" y2="181.69" stroke="#ec2a2a" stroke-width="0.9"/>
<line x1="547.91" y1="179.97" x2="547.91" y2="182.67" stroke="#ec2a2a" stroke-width="0.9"/>
<line x1="550.01" y1="180.95" x2="550.01" y2="183.65" stroke="#ec2a2a" stroke-width="0.9"/>
<line x1="552.1" y1="181.92" x2="552.1" y2="184.62" stroke="#ec2a2a" stroke-width="0.9"/>
<line x1="554.2" y1="182.9" x2="554.2" y2="185.6" stroke="#ec2a2a" stroke-width="0.9"/>
<line x1="556.3" y1="183.64" x2="556.3" y2="186.34" stroke="#ec2a2a" stroke-width="0.9"/>
<line x1="558.39" y1="184.37" x2="558.39" y2="187.07" stroke="#ec2a2a" stroke-width="0.9"/>
<line x1="560.49" y1="185.1" x2="560.49" y2="187.8" stroke="#ec2a2a" stroke-width="0.9"/>
<line x1="562.58" y1="185.84" x2="562.58" y2="188.54" stroke="#ec2a2a" stroke-width="0.9"/>
<line x1="564.68" y1="186.29" x2="564.68" y2="188.99" stroke="#ec2a2a" stroke-width="0.9"/>
<line x1="566.78" y1="186.75" x2="566.78" y2="189.45" stroke="#ec2a2a" stroke-width="0.9"/>
<line x1="568.87" y1="187.2" x2="568.87" y2="189.9" stroke="#ec2a2a" stroke-width="0.9"/>
<line x1="570.97" y1="187.65" x2="570.97" y2="190.35" stroke="#ec2a2a" stroke-width="0.9"/>
<line x1="573.06" y1="188.11" x2="573.06" y2="190.81" stroke="#ec2a2a" stroke-width="0.9"/>
<line x1="575.16" y1="188.56" x2="575.16" y2="191.26" stroke="#ec2a2a" stroke-width="0.9"/>
<line x1="577.26" y1="189.47" x2="577.26" y2="192.17" stroke="#ec2a2a" stroke-width="0.9"/>
<line x1="579.35" y1="190.38" x2="579.35" y2="193.08" stroke="#ec2a2a" stroke-width="0.9"/>
<line x1="581.45" y1="191.29" x2="581.45" y2="193.99" stroke="#ec2a2a" stroke-width="0.9"/>
<line x1="583.54" y1="191.65" x2="583.54" y2="194.35" stroke="#ec2a2a" stroke-width="0.9"/>
<line x1="585.64" y1="192.02" x2="585.64" y2="194.72" stroke="#ec2a2a" stroke-width="0.9"/>
<line x1="587.74" y1="192.39" x2="587.74" y2="195.09" stroke="#ec2a2a" stroke-width="0.9"/>
<line x1="589.83" y1="192.75" x2="589.83" y2="195.45" stroke="#ec2a2a" stroke-width="0.9"/>
<line x1="591.93" y1="193.3" x2="591.93" y2="196" stroke="#ec2a2a" stroke-width="0.9"/>
<line x1="594.02" y1="193.84" x2="594.02" y2="196.54" stroke="#ec2a2a" stroke-width="0.9"/>
<line x1="596.12" y1="194.39" x2="596.12" y2="197.09" stroke="#ec2a2a" stroke-width="0.9"/>
<line x1="598.22" y1="194.93" x2="598.22" y2="197.63" stroke="#ec2a2a" stroke-width="0.9"/>
<line x1="600.31" y1="195.48" x2="600.31" y2="198.18" stroke="#ec2a2a" stroke-width="0.9"/>
<line x1="602.83" y1="195.48" x2="602.83" y2="198.18" stroke="#ec2a2a" stroke-width="0.9"/>
<line x1="605.34" y1="195.48" x2="605.34" y2="198.18" stroke="#ec2a2a" stroke-width="0.9"/>
<line x1="607.86" y1="195.48" x2="607.86" y2="198.18" stroke="#ec2a2a" stroke-width="0.9"/>
<line x1="610.37" y1="195.48" x2="610.37" y2="198.18" stroke="#ec2a2a" stroke-width="0.9"/>
<line x1="612.89" y1="195.48" x2="612.89" y2="198.18" stroke="#ec2a2a" stroke-width="0.9"/>
<line x1="615.4" y1="195.48" x2="615.4" y2="198.18" stroke="#ec2a2a" stroke-width="0.9"/>
<line x1="617.92" y1="195.48" x2="617.92" y2="198.18" stroke="#ec2a2a" stroke-width="0.9"/>
<line x1="620.43" y1="195.48" x2="620.43" y2="198.18" stroke="#ec2a2a" stroke-width="0.9"/>
<line x1="622.95" y1="195.48" x2="622.95" y2="198.18" stroke="#ec2a2a" stroke-width="0.9"/>
<line x1="625.46" y1="195.48" x2="625.46" y2="198.18" stroke="#ec2a2a" stroke-width="0.9"/>
<line x1="627.98" y1="195.48" x2="627.98" y2="198.18" stroke="#ec2a2a" stroke-width="0.9"/>
<line x1="634.9" y1="199.67" x2="634.9" y2="202.37" stroke="#ec2a2a" stroke-width="0.9"/>
<line x1="638.04" y1="199.67" x2="638.04" y2="202.37" stroke="#ec2a2a" stroke-width="0.9"/>
<line x1="641.18" y1="199.67" x2="641.18" y2="202.37" stroke="#ec2a2a" stroke-width="0.9"/>
<line x1="644.33" y1="199.67" x2="644.33" y2="202.37" stroke="#ec2a2a" stroke-width="0.9"/>
<line x1="646.42" y1="199.67" x2="646.42" y2="202.37" stroke="#ec2a2a" stroke-width="0.9"/>
<path d="M532.19 174.61 L534.29 174.61 L534.29 175.21 L536.38 175.21 L536.38 175.82 L538.48 175.82 L538.48 176.42 L540.58 176.42 L540.58 177.02 L542.67 177.02 L542.67 177.62 L544.77 177.62 L544.77 178.23 L546.86 178.23 L546.86 178.83 L548.96 178.83 L548.96 179.43 L551.06 179.43 L551.06 179.75 L553.15 179.75 L553.15 180.06 L555.25 180.06 L555.25 180.38 L557.34 180.38 L557.34 180.69 L559.44 180.69 L559.44 181 L561.54 181 L561.54 181.32 L563.63 181.32 L563.63 181.63 L565.73 181.63 L565.73 181.95 L567.82 181.95 L567.82 182.26 L569.92 182.26 L569.92 182.58 L572.02 182.58 L572.02 182.97 L574.11 182.97 L574.11 183.35 L576.21 183.35 L576.21 183.74 L578.3 183.74 L578.3 184.13 L580.4 184.13 L580.4 184.52 L582.5 184.52 L582.5 184.91 L584.59 184.91 L584.59 185.3 L586.69 185.3 L586.69 185.35 L588.78 185.35 L588.78 185.39 L590.88 185.39 L590.88 185.44 L592.98 185.44 L592.98 185.49 L595.07 185.49 L595.07 185.53 L597.17 185.53 L597.17 185.58 L599.26 185.58 L599.26 185.63 L601.36 185.63 L601.36 185.67 L603.46 185.67 L603.46 185.72 L604.08 185.72 L604.08 187.82 L659 187.82" fill="none" stroke="#2c3ff0" stroke-width="1.05"/>
<line x1="536.38" y1="174.47" x2="536.38" y2="177.17" stroke="#2c3ff0" stroke-width="0.9"/>
<line x1="538.27" y1="174.47" x2="538.27" y2="177.17" stroke="#2c3ff0" stroke-width="0.9"/>
<line x1="540.16" y1="175.07" x2="540.16" y2="177.77" stroke="#2c3ff0" stroke-width="0.9"/>
<line x1="542.04" y1="175.67" x2="542.04" y2="178.37" stroke="#2c3ff0" stroke-width="0.9"/>
<line x1="543.93" y1="176.27" x2="543.93" y2="178.97" stroke="#2c3ff0" stroke-width="0.9"/>
<line x1="545.82" y1="176.88" x2="545.82" y2="179.58" stroke="#2c3ff0" stroke-width="0.9"/>
<line x1="547.7" y1="177.48" x2="547.7" y2="180.18" stroke="#2c3ff0" stroke-width="0.9"/>
<line x1="549.59" y1="178.08" x2="549.59" y2="180.78" stroke="#2c3ff0" stroke-width="0.9"/>
<line x1="551.48" y1="178.4" x2="551.48" y2="181.1" stroke="#2c3ff0" stroke-width="0.9"/>
<line x1="553.36" y1="178.71" x2="553.36" y2="181.41" stroke="#2c3ff0" stroke-width="0.9"/>
<line x1="555.25" y1="179.03" x2="555.25" y2="181.73" stroke="#2c3ff0" stroke-width="0.9"/>
<line x1="557.13" y1="179.03" x2="557.13" y2="181.73" stroke="#2c3ff0" stroke-width="0.9"/>
<line x1="559.02" y1="179.34" x2="559.02" y2="182.04" stroke="#2c3ff0" stroke-width="0.9"/>
<line x1="560.91" y1="179.65" x2="560.91" y2="182.35" stroke="#2c3ff0" stroke-width="0.9"/>
<line x1="562.79" y1="179.97" x2="562.79" y2="182.67" stroke="#2c3ff0" stroke-width="0.9"/>
<line x1="564.68" y1="180.28" x2="564.68" y2="182.98" stroke="#2c3ff0" stroke-width="0.9"/>
<line x1="566.57" y1="180.6" x2="566.57" y2="183.3" stroke="#2c3ff0" stroke-width="0.9"/>
<line x1="568.45" y1="180.91" x2="568.45" y2="183.61" stroke="#2c3ff0" stroke-width="0.9"/>
<line x1="570.34" y1="181.23" x2="570.34" y2="183.93" stroke="#2c3ff0" stroke-width="0.9"/>
<line x1="572.23" y1="181.62" x2="572.23" y2="184.32" stroke="#2c3ff0" stroke-width="0.9"/>
<line x1="574.11" y1="182" x2="574.11" y2="184.7" stroke="#2c3ff0" stroke-width="0.9"/>
<line x1="576" y1="182" x2="576" y2="184.7" stroke="#2c3ff0" stroke-width="0.9"/>
<line x1="577.88" y1="182.39" x2="577.88" y2="185.09" stroke="#2c3ff0" stroke-width="0.9"/>
<line x1="579.77" y1="182.78" x2="579.77" y2="185.48" stroke="#2c3ff0" stroke-width="0.9"/>
<line x1="581.66" y1="183.17" x2="581.66" y2="185.87" stroke="#2c3ff0" stroke-width="0.9"/>
<line x1="583.54" y1="183.56" x2="583.54" y2="186.26" stroke="#2c3ff0" stroke-width="0.9"/>
<line x1="585.43" y1="183.95" x2="585.43" y2="186.65" stroke="#2c3ff0" stroke-width="0.9"/>
<line x1="587.32" y1="184" x2="587.32" y2="186.7" stroke="#2c3ff0" stroke-width="0.9"/>
<line x1="589.2" y1="184.04" x2="589.2" y2="186.74" stroke="#2c3ff0" stroke-width="0.9"/>
<line x1="591.09" y1="184.09" x2="591.09" y2="186.79" stroke="#2c3ff0" stroke-width="0.9"/>
<line x1="592.98" y1="184.14" x2="592.98" y2="186.84" stroke="#2c3ff0" stroke-width="0.9"/>
<line x1="594.86" y1="184.14" x2="594.86" y2="186.84" stroke="#2c3ff0" stroke-width="0.9"/>
<line x1="596.75" y1="184.18" x2="596.75" y2="186.88" stroke="#2c3ff0" stroke-width="0.9"/>
<line x1="598.64" y1="184.23" x2="598.64" y2="186.93" stroke="#2c3ff0" stroke-width="0.9"/>
<line x1="600.52" y1="184.28" x2="600.52" y2="186.98" stroke="#2c3ff0" stroke-width="0.9"/>
<line x1="602.41" y1="184.32" x2="602.41" y2="187.02" stroke="#2c3ff0" stroke-width="0.9"/>
<line x1="605.55" y1="186.47" x2="605.55" y2="189.17" stroke="#2c3ff0" stroke-width="0.9"/>
<line x1="608.91" y1="186.47" x2="608.91" y2="189.17" stroke="#2c3ff0" stroke-width="0.9"/>
<line x1="612.26" y1="186.47" x2="612.26" y2="189.17" stroke="#2c3ff0" stroke-width="0.9"/>
<line x1="615.61" y1="186.47" x2="615.61" y2="189.17" stroke="#2c3ff0" stroke-width="0.9"/>
<line x1="618.97" y1="186.47" x2="618.97" y2="189.17" stroke="#2c3ff0" stroke-width="0.9"/>
<line x1="622.32" y1="186.47" x2="622.32" y2="189.17" stroke="#2c3ff0" stroke-width="0.9"/>
<line x1="625.67" y1="186.47" x2="625.67" y2="189.17" stroke="#2c3ff0" stroke-width="0.9"/>
<line x1="629.03" y1="186.47" x2="629.03" y2="189.17" stroke="#2c3ff0" stroke-width="0.9"/>
<line x1="632.38" y1="186.47" x2="632.38" y2="189.17" stroke="#2c3ff0" stroke-width="0.9"/>
<line x1="635.73" y1="186.47" x2="635.73" y2="189.17" stroke="#2c3ff0" stroke-width="0.9"/>
<line x1="639.09" y1="186.47" x2="639.09" y2="189.17" stroke="#2c3ff0" stroke-width="0.9"/>
<line x1="642.44" y1="186.47" x2="642.44" y2="189.17" stroke="#2c3ff0" stroke-width="0.9"/>
<line x1="645.8" y1="186.47" x2="645.8" y2="189.17" stroke="#2c3ff0" stroke-width="0.9"/>
<line x1="649.15" y1="186.47" x2="649.15" y2="189.17" stroke="#2c3ff0" stroke-width="0.9"/>
<line x1="652.5" y1="186.47" x2="652.5" y2="189.17" stroke="#2c3ff0" stroke-width="0.9"/>
<line x1="655.86" y1="186.47" x2="655.86" y2="189.17" stroke="#2c3ff0" stroke-width="0.9"/>
<line x1="659.21" y1="186.47" x2="659.21" y2="189.17" stroke="#2c3ff0" stroke-width="0.9"/>
<path d="M525.5 258.6 L525.5 266.9 L665.7 266.9" fill="none" stroke="#666" stroke-width="1.2"/>
<text transform="translate(523.9,261.55) scale(1,1.15)" font-size="4.1" fill="#ec2a2a" stroke="#ec2a2a" stroke-width="0.06" text-anchor="end">high</text>
<text transform="translate(523.9,265.35) scale(1,1.15)" font-size="4.1" fill="#2c3ff0" stroke="#2c3ff0" stroke-width="0.06" text-anchor="end">low</text>
<text transform="translate(532.2,261.45) scale(1,1.15)" font-size="4.1" fill="#222" stroke="#222" stroke-width="0.1" text-anchor="middle">260</text>
<text transform="translate(532.2,265.25) scale(1,1.15)" font-size="4.1" fill="#222" stroke="#222" stroke-width="0.1" text-anchor="middle">260</text>
<line x1="532.2" y1="266.9" x2="532.2" y2="268.2" stroke="#666" stroke-width="0.6"/>
<text transform="translate(532.2,272.2) scale(1,1.15)" font-size="4.2" fill="#222" stroke="#222" stroke-width="0.16" text-anchor="middle">0</text>
<text transform="translate(552.54,261.45) scale(1,1.15)" font-size="4.1" fill="#222" stroke="#222" stroke-width="0.1" text-anchor="middle">168</text>
<text transform="translate(552.54,265.25) scale(1,1.15)" font-size="4.1" fill="#222" stroke="#222" stroke-width="0.1" text-anchor="middle">163</text>
<line x1="552.54" y1="266.9" x2="552.54" y2="268.2" stroke="#666" stroke-width="0.6"/>
<text transform="translate(552.54,272.2) scale(1,1.15)" font-size="4.2" fill="#222" stroke="#222" stroke-width="0.16" text-anchor="middle">2</text>
<text transform="translate(572.88,261.45) scale(1,1.15)" font-size="4.1" fill="#222" stroke="#222" stroke-width="0.1" text-anchor="middle">113</text>
<text transform="translate(572.88,265.25) scale(1,1.15)" font-size="4.1" fill="#222" stroke="#222" stroke-width="0.1" text-anchor="middle">105</text>
<line x1="572.88" y1="266.9" x2="572.88" y2="268.2" stroke="#666" stroke-width="0.6"/>
<text transform="translate(572.88,272.2) scale(1,1.15)" font-size="4.2" fill="#222" stroke="#222" stroke-width="0.16" text-anchor="middle">4</text>
<text transform="translate(593.22,261.45) scale(1,1.15)" font-size="4.1" fill="#222" stroke="#222" stroke-width="0.1" text-anchor="middle">54</text>
<text transform="translate(593.22,265.25) scale(1,1.15)" font-size="4.1" fill="#222" stroke="#222" stroke-width="0.1" text-anchor="middle">47</text>
<line x1="593.22" y1="266.9" x2="593.22" y2="268.2" stroke="#666" stroke-width="0.6"/>
<text transform="translate(593.22,272.2) scale(1,1.15)" font-size="4.2" fill="#222" stroke="#222" stroke-width="0.16" text-anchor="middle">6</text>
<text transform="translate(613.56,261.45) scale(1,1.15)" font-size="4.1" fill="#222" stroke="#222" stroke-width="0.1" text-anchor="middle">22</text>
<text transform="translate(613.56,265.25) scale(1,1.15)" font-size="4.1" fill="#222" stroke="#222" stroke-width="0.1" text-anchor="middle">19</text>
<line x1="613.56" y1="266.9" x2="613.56" y2="268.2" stroke="#666" stroke-width="0.6"/>
<text transform="translate(613.56,272.2) scale(1,1.15)" font-size="4.2" fill="#222" stroke="#222" stroke-width="0.16" text-anchor="middle">8</text>
<text transform="translate(633.9,261.45) scale(1,1.15)" font-size="4.1" fill="#222" stroke="#222" stroke-width="0.1" text-anchor="middle">7</text>
<text transform="translate(633.9,265.25) scale(1,1.15)" font-size="4.1" fill="#222" stroke="#222" stroke-width="0.1" text-anchor="middle">6</text>
<line x1="633.9" y1="266.9" x2="633.9" y2="268.2" stroke="#666" stroke-width="0.6"/>
<text transform="translate(633.9,272.2) scale(1,1.15)" font-size="4.2" fill="#222" stroke="#222" stroke-width="0.16" text-anchor="middle">10</text>
<text transform="translate(654.24,261.45) scale(1,1.15)" font-size="4.1" fill="#222" stroke="#222" stroke-width="0.1" text-anchor="middle">0</text>
<text transform="translate(654.24,265.25) scale(1,1.15)" font-size="4.1" fill="#222" stroke="#222" stroke-width="0.1" text-anchor="middle">1</text>
<line x1="654.24" y1="266.9" x2="654.24" y2="268.2" stroke="#666" stroke-width="0.6"/>
<text transform="translate(654.24,272.2) scale(1,1.15)" font-size="4.2" fill="#222" stroke="#222" stroke-width="0.16" text-anchor="middle">12</text>
<text transform="translate(595.8,278.3) scale(1,1.15)" font-size="5.2" fill="#222" stroke="#222" stroke-width="0.08" text-anchor="middle">Time(years)</text>
<text transform="translate(511.9,262.2) rotate(-90) scale(1,1)" font-size="4.9" fill="#222" stroke="#222" stroke-width="0.12" text-anchor="middle">PAQR4 levels</text>
</g>
<g font-family='"Liberation Sans", sans-serif'>
<text transform="translate(509.6,306.5) scale(0.95,1.17)" font-size="11.2" fill="#000" stroke="#000" stroke-width="0.3">L</text>
<text transform="translate(525.6,302.7) scale(1,1.1)" font-size="6.0" fill="#222" stroke="#222" stroke-width="0.1">Cancer: KIRP</text>
<text transform="translate(564.3,312.9) scale(1,1.15)" font-size="4.25" fill="#222" stroke="#222" stroke-width="0.08">PAQR4 levels</text>
<text transform="translate(601.8,312.9) scale(1,1.15)" font-size="4.25" fill="#222" stroke="#222" stroke-width="0.08">high</text>
<text transform="translate(621.5,312.9) scale(1,1.15)" font-size="4.25" fill="#222" stroke="#222" stroke-width="0.08">low</text>
<line x1="593.6" y1="311.4" x2="598.4" y2="311.4" stroke="#ec2a2a" stroke-width="0.9"/>
<line x1="596" y1="310.3" x2="596" y2="312.5" stroke="#ec2a2a" stroke-width="0.8"/>
<line x1="613" y1="311.4" x2="617.8" y2="311.4" stroke="#2c3ff0" stroke-width="0.9"/>
<line x1="615.4" y1="310.3" x2="615.4" y2="312.5" stroke="#2c3ff0" stroke-width="0.8"/>
<path d="M525.5 321.4 L525.5 381.2 L665.7 381.2" fill="none" stroke="#666" stroke-width="1.2"/>
<text transform="translate(523.5,380.4) scale(1,1.15)" font-size="4.2" fill="#222" stroke="#222" stroke-width="0.16" text-anchor="end">0.00</text>
<line x1="524.2" y1="378.9" x2="525.5" y2="378.9" stroke="#666" stroke-width="0.6"/>
<text transform="translate(523.5,366.65) scale(1,1.15)" font-size="4.2" fill="#222" stroke="#222" stroke-width="0.16" text-anchor="end">0.25</text>
<line x1="524.2" y1="365.15" x2="525.5" y2="365.15" stroke="#666" stroke-width="0.6"/>
<text transform="translate(523.5,352.9) scale(1,1.15)" font-size="4.2" fill="#222" stroke="#222" stroke-width="0.16" text-anchor="end">0.50</text>
<line x1="524.2" y1="351.4" x2="525.5" y2="351.4" stroke="#666" stroke-width="0.6"/>
<text transform="translate(523.5,339.15) scale(1,1.15)" font-size="4.2" fill="#222" stroke="#222" stroke-width="0.16" text-anchor="end">0.75</text>
<line x1="524.2" y1="337.65" x2="525.5" y2="337.65" stroke="#666" stroke-width="0.6"/>
<text transform="translate(523.5,325.4) scale(1,1.15)" font-size="4.2" fill="#222" stroke="#222" stroke-width="0.16" text-anchor="end">1.00</text>
<line x1="524.2" y1="323.9" x2="525.5" y2="323.9" stroke="#666" stroke-width="0.6"/>
<text transform="translate(532.2,388.1) scale(1,1.15)" font-size="4.2" fill="#222" stroke="#222" stroke-width="0.16" text-anchor="middle">0</text>
<line x1="532.2" y1="381.2" x2="532.2" y2="382.5" stroke="#666" stroke-width="0.6"/>
<text transform="translate(548.06,388.1) scale(1,1.15)" font-size="4.2" fill="#222" stroke="#222" stroke-width="0.16" text-anchor="middle">2</text>
<line x1="548.06" y1="381.2" x2="548.06" y2="382.5" stroke="#666" stroke-width="0.6"/>
<text transform="translate(563.92,388.1) scale(1,1.15)" font-size="4.2" fill="#222" stroke="#222" stroke-width="0.16" text-anchor="middle">4</text>
<line x1="563.92" y1="381.2" x2="563.92" y2="382.5" stroke="#666" stroke-width="0.6"/>
<text transform="translate(579.78,388.1) scale(1,1.15)" font-size="4.2" fill="#222" stroke="#222" stroke-width="0.16" text-anchor="middle">6</text>
<line x1="579.78" y1="381.2" x2="579.78" y2="382.5" stroke="#666" stroke-width="0.6"/>
<text transform="translate(595.64,388.1) scale(1,1.15)" font-size="4.2" fill="#222" stroke="#222" stroke-width="0.16" text-anchor="middle">8</text>
<line x1="595.64" y1="381.2" x2="595.64" y2="382.5" stroke="#666" stroke-width="0.6"/>
<text transform="translate(611.5,388.1) scale(1,1.15)" font-size="4.2" fill="#222" stroke="#222" stroke-width="0.16" text-anchor="middle">10</text>
<line x1="611.5" y1="381.2" x2="611.5" y2="382.5" stroke="#666" stroke-width="0.6"/>
<text transform="translate(627.36,388.1) scale(1,1.15)" font-size="4.2" fill="#222" stroke="#222" stroke-width="0.16" text-anchor="middle">12</text>
<line x1="627.36" y1="381.2" x2="627.36" y2="382.5" stroke="#666" stroke-width="0.6"/>
<text transform="translate(643.22,388.1) scale(1,1.15)" font-size="4.2" fill="#222" stroke="#222" stroke-width="0.16" text-anchor="middle">14</text>
<line x1="643.22" y1="381.2" x2="643.22" y2="382.5" stroke="#666" stroke-width="0.6"/>
<text transform="translate(659.08,388.1) scale(1,1.15)" font-size="4.2" fill="#222" stroke="#222" stroke-width="0.16" text-anchor="middle">16</text>
<line x1="659.08" y1="381.2" x2="659.08" y2="382.5" stroke="#666" stroke-width="0.6"/>
<text transform="translate(595.8,393.4) scale(1,1.15)" font-size="5.2" fill="#222" stroke="#222" stroke-width="0.08" text-anchor="middle">Time(years)</text>
<text transform="translate(512.2,351.7) rotate(-90) scale(1,1)" font-size="5.15" fill="#222" stroke="#222" stroke-width="0.12" text-anchor="middle">Disease specific survival</text>
<text transform="translate(535.1,371.3) scale(1,1.05)" font-size="6.3" fill="#222" stroke="#222" stroke-width="0.05">p&lt;0.001</text>
<path d="M532.19 323.66 L534.29 323.66 L534.29 324.5 L536.38 324.5 L536.38 325.34 L538.48 325.34 L538.48 326.91 L540.58 326.91 L540.58 328.48 L542.67 328.48 L542.67 330.05 L544.77 330.05 L544.77 331.62 L547.91 331.62 L547.91 333.09 L550.36 333.09 L550.36 333.23 L552.8 333.23 L552.8 333.37 L555.25 333.37 L555.25 333.51 L557.34 333.51 L557.34 333.93 L559.44 333.93 L559.44 334.35 L561.54 334.35 L561.54 334.77 L564.68 334.77 L564.68 336.86 L567.3 336.86 L567.3 337.7 L569.92 337.7 L569.92 338.54 L572.47 338.54 L572.47 338.6 L575.01 338.6 L575.01 338.66 L577.56 338.66 L577.56 338.72 L580.1 338.72 L580.1 338.78 L582.65 338.78 L582.65 338.84 L585.19 338.84 L585.19 338.9 L587.74 338.9 L587.74 338.96 L588.78 338.96 L588.78 342.1 L662.14 342.1" fill="none" stroke="#ec2a2a" stroke-width="1.05"/>
<line x1="540.58" y1="327.13" x2="540.58" y2="329.83" stroke="#ec2a2a" stroke-width="0.9"/>
<line x1="546.86" y1="330.27" x2="546.86" y2="332.97" stroke="#ec2a2a" stroke-width="0.9"/>
<line x1="551.06" y1="331.88" x2="551.06" y2="334.58" stroke="#ec2a2a" stroke-width="0.9"/>
<line x1="553.15" y1="332.02" x2="553.15" y2="334.72" stroke="#ec2a2a" stroke-width="0.9"/>
<line x1="555.25" y1="332.16" x2="555.25" y2="334.86" stroke="#ec2a2a" stroke-width="0.9"/>
<line x1="557.34" y1="332.58" x2="557.34" y2="335.28" stroke="#ec2a2a" stroke-width="0.9"/>
<line x1="561.54" y1="333.42" x2="561.54" y2="336.12" stroke="#ec2a2a" stroke-width="0.9"/>
<line x1="565.73" y1="335.51" x2="565.73" y2="338.21" stroke="#ec2a2a" stroke-width="0.9"/>
<line x1="572.02" y1="337.19" x2="572.02" y2="339.89" stroke="#ec2a2a" stroke-width="0.9"/>
<line x1="575.16" y1="337.31" x2="575.16" y2="340.01" stroke="#ec2a2a" stroke-width="0.9"/>
<line x1="578.3" y1="337.37" x2="578.3" y2="340.07" stroke="#ec2a2a" stroke-width="0.9"/>
<line x1="581.45" y1="337.43" x2="581.45" y2="340.13" stroke="#ec2a2a" stroke-width="0.9"/>
<line x1="584.59" y1="337.49" x2="584.59" y2="340.19" stroke="#ec2a2a" stroke-width="0.9"/>
<line x1="590.88" y1="340.75" x2="590.88" y2="343.45" stroke="#ec2a2a" stroke-width="0.9"/>
<line x1="592.98" y1="340.75" x2="592.98" y2="343.45" stroke="#ec2a2a" stroke-width="0.9"/>
<line x1="597.17" y1="340.75" x2="597.17" y2="343.45" stroke="#ec2a2a" stroke-width="0.9"/>
<line x1="600.31" y1="340.75" x2="600.31" y2="343.45" stroke="#ec2a2a" stroke-width="0.9"/>
<line x1="614.98" y1="340.75" x2="614.98" y2="343.45" stroke="#ec2a2a" stroke-width="0.9"/>
<line x1="662.14" y1="340.75" x2="662.14" y2="343.45" stroke="#ec2a2a" stroke-width="0.9"/>
<path d="M532.19 323.66 L536.38 323.66 L536.38 324.08 L539.27 324.08 L539.27 324.16 L542.15 324.16 L542.15 324.24 L545.03 324.24 L545.03 324.31 L547.91 324.31 L547.91 324.39 L550.79 324.39 L550.79 324.47 L553.68 324.47 L553.68 324.55 L556.56 324.55 L556.56 324.63 L559.44 324.63 L559.44 324.71 L561.54 324.71 L561.54 325.96 L618.55 325.96" fill="none" stroke="#2c3ff0" stroke-width="1.05"/>
<line x1="534.29" y1="322.31" x2="534.29" y2="325.01" stroke="#2c3ff0" stroke-width="0.9"/>
<line x1="535.96" y1="322.31" x2="535.96" y2="325.01" stroke="#2c3ff0" stroke-width="0.9"/>
<line x1="537.64" y1="322.73" x2="537.64" y2="325.43" stroke="#2c3ff0" stroke-width="0.9"/>
<line x1="539.32" y1="322.81" x2="539.32" y2="325.51" stroke="#2c3ff0" stroke-width="0.9"/>
<line x1="541" y1="322.81" x2="541" y2="325.51" stroke="#2c3ff0" stroke-width="0.9"/>
<line x1="542.67" y1="322.89" x2="542.67" y2="325.59" stroke="#2c3ff0" stroke-width="0.9"/>
<line x1="544.35" y1="322.89" x2="544.35" y2="325.59" stroke="#2c3ff0" stroke-width="0.9"/>
<line x1="546.03" y1="322.96" x2="546.03" y2="325.66" stroke="#2c3ff0" stroke-width="0.9"/>
<line x1="547.7" y1="322.96" x2="547.7" y2="325.66" stroke="#2c3ff0" stroke-width="0.9"/>
<line x1="549.38" y1="323.04" x2="549.38" y2="325.74" stroke="#2c3ff0" stroke-width="0.9"/>
<line x1="551.06" y1="323.12" x2="551.06" y2="325.82" stroke="#2c3ff0" stroke-width="0.9"/>
<line x1="552.73" y1="323.12" x2="552.73" y2="325.82" stroke="#2c3ff0" stroke-width="0.9"/>
<line x1="554.41" y1="323.2" x2="554.41" y2="325.9" stroke="#2c3ff0" stroke-width="0.9"/>
<line x1="556.09" y1="323.2" x2="556.09" y2="325.9" stroke="#2c3ff0" stroke-width="0.9"/>
<line x1="557.76" y1="323.28" x2="557.76" y2="325.98" stroke="#2c3ff0" stroke-width="0.9"/>
<line x1="564.68" y1="324.61" x2="564.68" y2="327.31" stroke="#2c3ff0" stroke-width="0.9"/>
<line x1="567.61" y1="324.61" x2="567.61" y2="327.31" stroke="#2c3ff0" stroke-width="0.9"/>
<line x1="570.55" y1="324.61" x2="570.55" y2="327.31" stroke="#2c3ff0" stroke-width="0.9"/>
<line x1="573.48" y1="324.61" x2="573.48" y2="327.31" stroke="#2c3ff0" stroke-width="0.9"/>
<line x1="576.42" y1="324.61" x2="576.42" y2="327.31" stroke="#2c3ff0" stroke-width="0.9"/>
<line x1="579.35" y1="324.61" x2="579.35" y2="327.31" stroke="#2c3ff0" stroke-width="0.9"/>
<line x1="582.29" y1="324.61" x2="582.29" y2="327.31" stroke="#2c3ff0" stroke-width="0.9"/>
<line x1="585.22" y1="324.61" x2="585.22" y2="327.31" stroke="#2c3ff0" stroke-width="0.9"/>
<line x1="588.16" y1="324.61" x2="588.16" y2="327.31" stroke="#2c3ff0" stroke-width="0.9"/>
<line x1="591.09" y1="324.61" x2="591.09" y2="327.31" stroke="#2c3ff0" stroke-width="0.9"/>
<line x1="594.02" y1="324.61" x2="594.02" y2="327.31" stroke="#2c3ff0" stroke-width="0.9"/>
<line x1="596.96" y1="324.61" x2="596.96" y2="327.31" stroke="#2c3ff0" stroke-width="0.9"/>
<line x1="599.89" y1="324.61" x2="599.89" y2="327.31" stroke="#2c3ff0" stroke-width="0.9"/>
<line x1="602.83" y1="324.61" x2="602.83" y2="327.31" stroke="#2c3ff0" stroke-width="0.9"/>
<line x1="605.76" y1="324.61" x2="605.76" y2="327.31" stroke="#2c3ff0" stroke-width="0.9"/>
<line x1="608.7" y1="324.61" x2="608.7" y2="327.31" stroke="#2c3ff0" stroke-width="0.9"/>
<line x1="611.63" y1="324.61" x2="611.63" y2="327.31" stroke="#2c3ff0" stroke-width="0.9"/>
<line x1="614.56" y1="324.61" x2="614.56" y2="327.31" stroke="#2c3ff0" stroke-width="0.9"/>
<line x1="617.5" y1="324.61" x2="617.5" y2="327.31" stroke="#2c3ff0" stroke-width="0.9"/>
<path d="M525.5 407.5 L525.5 415.8 L665.7 415.8" fill="none" stroke="#666" stroke-width="1.2"/>
<text transform="translate(523.9,410.45) scale(1,1.15)" font-size="4.1" fill="#ec2a2a" stroke="#ec2a2a" stroke-width="0.06" text-anchor="end">high</text>
<text transform="translate(523.9,414.25) scale(1,1.15)" font-size="4.1" fill="#2c3ff0" stroke="#2c3ff0" stroke-width="0.06" text-anchor="end">low</text>
<text transform="translate(532.2,410.35) scale(1,1.15)" font-size="4.1" fill="#222" stroke="#222" stroke-width="0.1" text-anchor="middle">142</text>
<text transform="translate(532.2,414.15) scale(1,1.15)" font-size="4.1" fill="#222" stroke="#222" stroke-width="0.1" text-anchor="middle">142</text>
<line x1="532.2" y1="415.8" x2="532.2" y2="417.1" stroke="#666" stroke-width="0.6"/>
<text transform="translate(532.2,421.1) scale(1,1.15)" font-size="4.2" fill="#222" stroke="#222" stroke-width="0.16" text-anchor="middle">0</text>
<text transform="translate(548.06,410.35) scale(1,1.15)" font-size="4.1" fill="#222" stroke="#222" stroke-width="0.1" text-anchor="middle">68</text>
<text transform="translate(548.06,414.15) scale(1,1.15)" font-size="4.1" fill="#222" stroke="#222" stroke-width="0.1" text-anchor="middle">77</text>
<line x1="548.06" y1="415.8" x2="548.06" y2="417.1" stroke="#666" stroke-width="0.6"/>
<text transform="translate(548.06,421.1) scale(1,1.15)" font-size="4.2" fill="#222" stroke="#222" stroke-width="0.16" text-anchor="middle">2</text>
<text transform="translate(563.92,410.35) scale(1,1.15)" font-size="4.1" fill="#222" stroke="#222" stroke-width="0.1" text-anchor="middle">33</text>
<text transform="translate(563.92,414.15) scale(1,1.15)" font-size="4.1" fill="#222" stroke="#222" stroke-width="0.1" text-anchor="middle">41</text>
<line x1="563.92" y1="415.8" x2="563.92" y2="417.1" stroke="#666" stroke-width="0.6"/>
<text transform="translate(563.92,421.1) scale(1,1.15)" font-size="4.2" fill="#222" stroke="#222" stroke-width="0.16" text-anchor="middle">4</text>
<text transform="translate(579.78,410.35) scale(1,1.15)" font-size="4.1" fill="#222" stroke="#222" stroke-width="0.1" text-anchor="middle">13</text>
<text transform="translate(579.78,414.15) scale(1,1.15)" font-size="4.1" fill="#222" stroke="#222" stroke-width="0.1" text-anchor="middle">20</text>
<line x1="579.78" y1="415.8" x2="579.78" y2="417.1" stroke="#666" stroke-width="0.6"/>
<text transform="translate(579.78,421.1) scale(1,1.15)" font-size="4.2" fill="#222" stroke="#222" stroke-width="0.16" text-anchor="middle">6</text>
<text transform="translate(595.64,410.35) scale(1,1.15)" font-size="4.1" fill="#222" stroke="#222" stroke-width="0.1" text-anchor="middle">6</text>
<text transform="translate(595.64,414.15) scale(1,1.15)" font-size="4.1" fill="#222" stroke="#222" stroke-width="0.1" text-anchor="middle">7</text>
<line x1="595.64" y1="415.8" x2="595.64" y2="417.1" stroke="#666" stroke-width="0.6"/>
<text transform="translate(595.64,421.1) scale(1,1.15)" font-size="4.2" fill="#222" stroke="#222" stroke-width="0.16" text-anchor="middle">8</text>
<text transform="translate(611.5,410.35) scale(1,1.15)" font-size="4.1" fill="#222" stroke="#222" stroke-width="0.1" text-anchor="middle">3</text>
<text transform="translate(611.5,414.15) scale(1,1.15)" font-size="4.1" fill="#222" stroke="#222" stroke-width="0.1" text-anchor="middle">1</text>
<line x1="611.5" y1="415.8" x2="611.5" y2="417.1" stroke="#666" stroke-width="0.6"/>
<text transform="translate(611.5,421.1) scale(1,1.15)" font-size="4.2" fill="#222" stroke="#222" stroke-width="0.16" text-anchor="middle">10</text>
<text transform="translate(627.36,410.35) scale(1,1.15)" font-size="4.1" fill="#222" stroke="#222" stroke-width="0.1" text-anchor="middle">1</text>
<text transform="translate(627.36,414.15) scale(1,1.15)" font-size="4.1" fill="#222" stroke="#222" stroke-width="0.1" text-anchor="middle">0</text>
<line x1="627.36" y1="415.8" x2="627.36" y2="417.1" stroke="#666" stroke-width="0.6"/>
<text transform="translate(627.36,421.1) scale(1,1.15)" font-size="4.2" fill="#222" stroke="#222" stroke-width="0.16" text-anchor="middle">12</text>
<text transform="translate(643.22,410.35) scale(1,1.15)" font-size="4.1" fill="#222" stroke="#222" stroke-width="0.1" text-anchor="middle">1</text>
<text transform="translate(643.22,414.15) scale(1,1.15)" font-size="4.1" fill="#222" stroke="#222" stroke-width="0.1" text-anchor="middle">0</text>
<line x1="643.22" y1="415.8" x2="643.22" y2="417.1" stroke="#666" stroke-width="0.6"/>
<text transform="translate(643.22,421.1) scale(1,1.15)" font-size="4.2" fill="#222" stroke="#222" stroke-width="0.16" text-anchor="middle">14</text>
<text transform="translate(659.08,410.35) scale(1,1.15)" font-size="4.1" fill="#222" stroke="#222" stroke-width="0.1" text-anchor="middle">1</text>
<text transform="translate(659.08,414.15) scale(1,1.15)" font-size="4.1" fill="#222" stroke="#222" stroke-width="0.1" text-anchor="middle">0</text>
<line x1="659.08" y1="415.8" x2="659.08" y2="417.1" stroke="#666" stroke-width="0.6"/>
<text transform="translate(659.08,421.1) scale(1,1.15)" font-size="4.2" fill="#222" stroke="#222" stroke-width="0.16" text-anchor="middle">16</text>
<text transform="translate(595.8,427.2) scale(1,1.15)" font-size="5.2" fill="#222" stroke="#222" stroke-width="0.08" text-anchor="middle">Time(years)</text>
<text transform="translate(511.9,411.1) rotate(-90) scale(1,1)" font-size="4.9" fill="#222" stroke="#222" stroke-width="0.12" text-anchor="middle">PAQR4 levels</text>
</g>
<g font-family='"Liberation Sans", sans-serif'>
<text transform="translate(2,393.4) scale(0.95,1.17)" font-size="11.2" fill="#000" stroke="#000" stroke-width="0.3">M</text>
<text transform="translate(19.9,390.5) scale(1,1.1)" font-size="6.0" fill="#222" stroke="#222" stroke-width="0.1">Cancer: LIHC</text>
<text transform="translate(58.6,400.7) scale(1,1.15)" font-size="4.25" fill="#222" stroke="#222" stroke-width="0.08">PAQR4 levels</text>
<text transform="translate(96.1,400.7) scale(1,1.15)" font-size="4.25" fill="#222" stroke="#222" stroke-width="0.08">high</text>
<text transform="translate(115.8,400.7) scale(1,1.15)" font-size="4.25" fill="#222" stroke="#222" stroke-width="0.08">low</text>
<line x1="87.9" y1="399.2" x2="92.7" y2="399.2" stroke="#ec2a2a" stroke-width="0.9"/>
<line x1="90.3" y1="398.1" x2="90.3" y2="400.3" stroke="#ec2a2a" stroke-width="0.8"/>
<line x1="107.3" y1="399.2" x2="112.1" y2="399.2" stroke="#2c3ff0" stroke-width="0.9"/>
<line x1="109.7" y1="398.1" x2="109.7" y2="400.3" stroke="#2c3ff0" stroke-width="0.8"/>
<path d="M19.8 409.2 L19.8 469.7 L160 469.7" fill="none" stroke="#666" stroke-width="1.2"/>
<text transform="translate(17.8,468.9) scale(1,1.15)" font-size="4.2" fill="#222" stroke="#222" stroke-width="0.16" text-anchor="end">0.00</text>
<line x1="18.5" y1="467.4" x2="19.8" y2="467.4" stroke="#666" stroke-width="0.6"/>
<text transform="translate(17.8,454.97) scale(1,1.15)" font-size="4.2" fill="#222" stroke="#222" stroke-width="0.16" text-anchor="end">0.25</text>
<line x1="18.5" y1="453.47" x2="19.8" y2="453.47" stroke="#666" stroke-width="0.6"/>
<text transform="translate(17.8,441.05) scale(1,1.15)" font-size="4.2" fill="#222" stroke="#222" stroke-width="0.16" text-anchor="end">0.50</text>
<line x1="18.5" y1="439.55" x2="19.8" y2="439.55" stroke="#666" stroke-width="0.6"/>
<text transform="translate(17.8,427.12) scale(1,1.15)" font-size="4.2" fill="#222" stroke="#222" stroke-width="0.16" text-anchor="end">0.75</text>
<line x1="18.5" y1="425.62" x2="19.8" y2="425.62" stroke="#666" stroke-width="0.6"/>
<text transform="translate(17.8,413.2) scale(1,1.15)" font-size="4.2" fill="#222" stroke="#222" stroke-width="0.16" text-anchor="end">1.00</text>
<line x1="18.5" y1="411.7" x2="19.8" y2="411.7" stroke="#666" stroke-width="0.6"/>
<text transform="translate(26.3,475.7) scale(1,1.15)" font-size="4.2" fill="#222" stroke="#222" stroke-width="0.16" text-anchor="middle">0</text>
<line x1="26.3" y1="469.7" x2="26.3" y2="471" stroke="#666" stroke-width="0.6"/>
<text transform="translate(51.8,475.7) scale(1,1.15)" font-size="4.2" fill="#222" stroke="#222" stroke-width="0.16" text-anchor="middle">2</text>
<line x1="51.8" y1="469.7" x2="51.8" y2="471" stroke="#666" stroke-width="0.6"/>
<text transform="translate(77.3,475.7) scale(1,1.15)" font-size="4.2" fill="#222" stroke="#222" stroke-width="0.16" text-anchor="middle">4</text>
<line x1="77.3" y1="469.7" x2="77.3" y2="471" stroke="#666" stroke-width="0.6"/>
<text transform="translate(102.8,475.7) scale(1,1.15)" font-size="4.2" fill="#222" stroke="#222" stroke-width="0.16" text-anchor="middle">6</text>
<line x1="102.8" y1="469.7" x2="102.8" y2="471" stroke="#666" stroke-width="0.6"/>
<text transform="translate(128.3,475.7) scale(1,1.15)" font-size="4.2" fill="#222" stroke="#222" stroke-width="0.16" text-anchor="middle">8</text>
<line x1="128.3" y1="469.7" x2="128.3" y2="471" stroke="#666" stroke-width="0.6"/>
<text transform="translate(153.8,475.7) scale(1,1.15)" font-size="4.2" fill="#222" stroke="#222" stroke-width="0.16" text-anchor="middle">10</text>
<line x1="153.8" y1="469.7" x2="153.8" y2="471" stroke="#666" stroke-width="0.6"/>
<text transform="translate(90.1,480.9) scale(1,1.15)" font-size="5.2" fill="#222" stroke="#222" stroke-width="0.08" text-anchor="middle">Time(years)</text>
<text transform="translate(6.5,439.85) rotate(-90) scale(1,1)" font-size="5.15" fill="#222" stroke="#222" stroke-width="0.12" text-anchor="middle">Disease specific survival</text>
<text transform="translate(29.2,458.6) scale(1,1.05)" font-size="6.3" fill="#222" stroke="#222" stroke-width="0.05">p=0.006</text>
<path d="M26.29 411.29 L28.65 411.29 L28.65 411.81 L31 411.81 L31 412.34 L33.36 412.34 L33.36 412.86 L35.72 412.86 L35.72 413.38 L38.86 413.38 L38.86 417.58 L40.96 417.58 L40.96 419.15 L43.06 419.15 L43.06 420.72 L45.15 420.72 L45.15 421.77 L47.25 421.77 L47.25 422.82 L49.34 422.82 L49.34 424.39 L51.44 424.39 L51.44 425.96 L53.54 425.96 L53.54 427.85 L55.63 427.85 L55.63 429.73 L57.73 429.73 L57.73 430.22 L59.82 430.22 L59.82 430.71 L61.92 430.71 L61.92 431.2 L64.44 431.2 L64.44 431.41 L66.95 431.41 L66.95 431.62 L69.47 431.62 L69.47 431.83 L71.98 431.83 L71.98 432.04 L74.5 432.04 L74.5 432.25 L77.64 432.25 L77.64 435.39 L111.18 435.39 L111.8 435.39 L111.8 442.73 L115.37 442.73 L115.37 447.97 L135.49 447.97 L135.49 457.4 L155.19 457.4" fill="none" stroke="#ec2a2a" stroke-width="1.05"/>
<line x1="28.38" y1="409.94" x2="28.38" y2="412.64" stroke="#ec2a2a" stroke-width="0.9"/>
<line x1="30.9" y1="410.46" x2="30.9" y2="413.16" stroke="#ec2a2a" stroke-width="0.9"/>
<line x1="33.41" y1="411.51" x2="33.41" y2="414.21" stroke="#ec2a2a" stroke-width="0.9"/>
<line x1="35.93" y1="412.03" x2="35.93" y2="414.73" stroke="#ec2a2a" stroke-width="0.9"/>
<line x1="38.44" y1="412.03" x2="38.44" y2="414.73" stroke="#ec2a2a" stroke-width="0.9"/>
<line x1="40.96" y1="417.8" x2="40.96" y2="420.5" stroke="#ec2a2a" stroke-width="0.9"/>
<line x1="43.48" y1="419.37" x2="43.48" y2="422.07" stroke="#ec2a2a" stroke-width="0.9"/>
<line x1="45.99" y1="420.42" x2="45.99" y2="423.12" stroke="#ec2a2a" stroke-width="0.9"/>
<line x1="48.51" y1="421.47" x2="48.51" y2="424.17" stroke="#ec2a2a" stroke-width="0.9"/>
<line x1="51.02" y1="423.04" x2="51.02" y2="425.74" stroke="#ec2a2a" stroke-width="0.9"/>
<line x1="53.54" y1="426.5" x2="53.54" y2="429.2" stroke="#ec2a2a" stroke-width="0.9"/>
<line x1="56.05" y1="428.38" x2="56.05" y2="431.08" stroke="#ec2a2a" stroke-width="0.9"/>
<line x1="58.57" y1="428.87" x2="58.57" y2="431.57" stroke="#ec2a2a" stroke-width="0.9"/>
<line x1="61.08" y1="429.36" x2="61.08" y2="432.06" stroke="#ec2a2a" stroke-width="0.9"/>
<line x1="63.6" y1="429.85" x2="63.6" y2="432.55" stroke="#ec2a2a" stroke-width="0.9"/>
<line x1="66.11" y1="430.06" x2="66.11" y2="432.76" stroke="#ec2a2a" stroke-width="0.9"/>
<line x1="68.63" y1="430.27" x2="68.63" y2="432.97" stroke="#ec2a2a" stroke-width="0.9"/>
<line x1="71.14" y1="430.48" x2="71.14" y2="433.18" stroke="#ec2a2a" stroke-width="0.9"/>
<line x1="73.66" y1="430.69" x2="73.66" y2="433.39" stroke="#ec2a2a" stroke-width="0.9"/>
<line x1="76.17" y1="430.9" x2="76.17" y2="433.6" stroke="#ec2a2a" stroke-width="0.9"/>
<line x1="78.69" y1="434.04" x2="78.69" y2="436.74" stroke="#ec2a2a" stroke-width="0.9"/>
<line x1="82.88" y1="434.04" x2="82.88" y2="436.74" stroke="#ec2a2a" stroke-width="0.9"/>
<line x1="87.07" y1="434.04" x2="87.07" y2="436.74" stroke="#ec2a2a" stroke-width="0.9"/>
<line x1="93.36" y1="434.04" x2="93.36" y2="436.74" stroke="#ec2a2a" stroke-width="0.9"/>
<line x1="99.65" y1="434.04" x2="99.65" y2="436.74" stroke="#ec2a2a" stroke-width="0.9"/>
<line x1="108.03" y1="434.04" x2="108.03" y2="436.74" stroke="#ec2a2a" stroke-width="0.9"/>
<line x1="121.66" y1="446.62" x2="121.66" y2="449.32" stroke="#ec2a2a" stroke-width="0.9"/>
<line x1="155.19" y1="456.05" x2="155.19" y2="458.75" stroke="#ec2a2a" stroke-width="0.9"/>
<path d="M26.29 411.29 L29.08 411.29 L29.08 411.64 L31.88 411.64 L31.88 411.99 L34.67 411.99 L34.67 412.34 L36.77 412.34 L36.77 413.24 L38.86 413.24 L38.86 414.15 L40.96 414.15 L40.96 415.06 L43.75 415.06 L43.75 415.9 L46.55 415.9 L46.55 416.74 L49.34 416.74 L49.34 417.58 L52.14 417.58 L52.14 418.27 L54.93 418.27 L54.93 418.97 L57.73 418.97 L57.73 419.67 L60.35 419.67 L60.35 420.2 L62.97 420.2 L62.97 420.72 L65.59 420.72 L65.59 421.24 L68.21 421.24 L68.21 421.77 L70.3 421.77 L70.3 423.34 L72.4 423.34 L72.4 424.91 L75.02 424.91 L75.02 425.17 L77.64 425.17 L77.64 425.44 L80.26 425.44 L80.26 425.7 L82.88 425.7 L82.88 425.96 L84.98 425.96 L84.98 427.53 L87.07 427.53 L87.07 429.1 L89.17 429.1 L89.17 430.47 L91.26 430.47 L91.26 431.83 L94.06 431.83 L94.06 432.32 L96.85 432.32 L96.85 432.81 L99.65 432.81 L99.65 433.3 L112.22 433.3 L113.9 433.3 L113.9 438.54 L147.86 438.54" fill="none" stroke="#2c3ff0" stroke-width="1.05"/>
<line x1="28.38" y1="409.94" x2="28.38" y2="412.64" stroke="#2c3ff0" stroke-width="0.9"/>
<line x1="30.9" y1="410.29" x2="30.9" y2="412.99" stroke="#2c3ff0" stroke-width="0.9"/>
<line x1="33.41" y1="410.64" x2="33.41" y2="413.34" stroke="#2c3ff0" stroke-width="0.9"/>
<line x1="35.93" y1="410.99" x2="35.93" y2="413.69" stroke="#2c3ff0" stroke-width="0.9"/>
<line x1="38.44" y1="411.89" x2="38.44" y2="414.59" stroke="#2c3ff0" stroke-width="0.9"/>
<line x1="40.96" y1="413.71" x2="40.96" y2="416.41" stroke="#2c3ff0" stroke-width="0.9"/>
<line x1="43.48" y1="413.71" x2="43.48" y2="416.41" stroke="#2c3ff0" stroke-width="0.9"/>
<line x1="45.99" y1="414.55" x2="45.99" y2="417.25" stroke="#2c3ff0" stroke-width="0.9"/>
<line x1="48.51" y1="415.39" x2="48.51" y2="418.09" stroke="#2c3ff0" stroke-width="0.9"/>
<line x1="51.02" y1="416.23" x2="51.02" y2="418.93" stroke="#2c3ff0" stroke-width="0.9"/>
<line x1="53.54" y1="416.92" x2="53.54" y2="419.62" stroke="#2c3ff0" stroke-width="0.9"/>
<line x1="56.05" y1="417.62" x2="56.05" y2="420.32" stroke="#2c3ff0" stroke-width="0.9"/>
<line x1="58.57" y1="418.32" x2="58.57" y2="421.02" stroke="#2c3ff0" stroke-width="0.9"/>
<line x1="61.08" y1="418.85" x2="61.08" y2="421.55" stroke="#2c3ff0" stroke-width="0.9"/>
<line x1="63.6" y1="419.37" x2="63.6" y2="422.07" stroke="#2c3ff0" stroke-width="0.9"/>
<line x1="66.11" y1="419.89" x2="66.11" y2="422.59" stroke="#2c3ff0" stroke-width="0.9"/>
<line x1="68.63" y1="420.42" x2="68.63" y2="423.12" stroke="#2c3ff0" stroke-width="0.9"/>
<line x1="71.14" y1="421.99" x2="71.14" y2="424.69" stroke="#2c3ff0" stroke-width="0.9"/>
<line x1="73.66" y1="423.56" x2="73.66" y2="426.26" stroke="#2c3ff0" stroke-width="0.9"/>
<line x1="76.17" y1="423.82" x2="76.17" y2="426.52" stroke="#2c3ff0" stroke-width="0.9"/>
<line x1="78.69" y1="424.09" x2="78.69" y2="426.79" stroke="#2c3ff0" stroke-width="0.9"/>
<line x1="81.2" y1="424.35" x2="81.2" y2="427.05" stroke="#2c3ff0" stroke-width="0.9"/>
<line x1="83.72" y1="424.61" x2="83.72" y2="427.31" stroke="#2c3ff0" stroke-width="0.9"/>
<line x1="86.23" y1="426.18" x2="86.23" y2="428.88" stroke="#2c3ff0" stroke-width="0.9"/>
<line x1="88.75" y1="427.75" x2="88.75" y2="430.45" stroke="#2c3ff0" stroke-width="0.9"/>
<line x1="91.26" y1="430.48" x2="91.26" y2="433.18" stroke="#2c3ff0" stroke-width="0.9"/>
<line x1="93.78" y1="430.48" x2="93.78" y2="433.18" stroke="#2c3ff0" stroke-width="0.9"/>
<line x1="96.29" y1="430.97" x2="96.29" y2="433.67" stroke="#2c3ff0" stroke-width="0.9"/>
<line x1="98.81" y1="431.46" x2="98.81" y2="434.16" stroke="#2c3ff0" stroke-width="0.9"/>
<line x1="101.74" y1="431.95" x2="101.74" y2="434.65" stroke="#2c3ff0" stroke-width="0.9"/>
<line x1="105.94" y1="431.95" x2="105.94" y2="434.65" stroke="#2c3ff0" stroke-width="0.9"/>
<line x1="108.03" y1="431.95" x2="108.03" y2="434.65" stroke="#2c3ff0" stroke-width="0.9"/>
<line x1="110.13" y1="431.95" x2="110.13" y2="434.65" stroke="#2c3ff0" stroke-width="0.9"/>
<line x1="112.22" y1="431.95" x2="112.22" y2="434.65" stroke="#2c3ff0" stroke-width="0.9"/>
<line x1="122.7" y1="437.19" x2="122.7" y2="439.89" stroke="#2c3ff0" stroke-width="0.9"/>
<line x1="141.57" y1="437.19" x2="141.57" y2="439.89" stroke="#2c3ff0" stroke-width="0.9"/>
<line x1="145.76" y1="437.19" x2="145.76" y2="439.89" stroke="#2c3ff0" stroke-width="0.9"/>
<line x1="147.86" y1="437.19" x2="147.86" y2="439.89" stroke="#2c3ff0" stroke-width="0.9"/>
<path d="M19.8 494.9 L19.8 503.2 L160 503.2" fill="none" stroke="#666" stroke-width="1.2"/>
<text transform="translate(18.2,497.85) scale(1,1.15)" font-size="4.1" fill="#ec2a2a" stroke="#ec2a2a" stroke-width="0.06" text-anchor="end">high</text>
<text transform="translate(18.2,501.65) scale(1,1.15)" font-size="4.1" fill="#2c3ff0" stroke="#2c3ff0" stroke-width="0.06" text-anchor="end">low</text>
<text transform="translate(26.3,497.75) scale(1,1.15)" font-size="4.1" fill="#222" stroke="#222" stroke-width="0.1" text-anchor="middle">182</text>
<text transform="translate(26.3,501.55) scale(1,1.15)" font-size="4.1" fill="#222" stroke="#222" stroke-width="0.1" text-anchor="middle">182</text>
<line x1="26.3" y1="503.2" x2="26.3" y2="504.5" stroke="#666" stroke-width="0.6"/>
<text transform="translate(26.3,508.5) scale(1,1.15)" font-size="4.2" fill="#222" stroke="#222" stroke-width="0.16" text-anchor="middle">0</text>
<text transform="translate(51.8,497.75) scale(1,1.15)" font-size="4.1" fill="#222" stroke="#222" stroke-width="0.1" text-anchor="middle">63</text>
<text transform="translate(51.8,501.55) scale(1,1.15)" font-size="4.1" fill="#222" stroke="#222" stroke-width="0.1" text-anchor="middle">77</text>
<line x1="51.8" y1="503.2" x2="51.8" y2="504.5" stroke="#666" stroke-width="0.6"/>
<text transform="translate(51.8,508.5) scale(1,1.15)" font-size="4.2" fill="#222" stroke="#222" stroke-width="0.16" text-anchor="middle">2</text>
<text transform="translate(77.3,497.75) scale(1,1.15)" font-size="4.1" fill="#222" stroke="#222" stroke-width="0.1" text-anchor="middle">27</text>
<text transform="translate(77.3,501.55) scale(1,1.15)" font-size="4.1" fill="#222" stroke="#222" stroke-width="0.1" text-anchor="middle">39</text>
<line x1="77.3" y1="503.2" x2="77.3" y2="504.5" stroke="#666" stroke-width="0.6"/>
<text transform="translate(77.3,508.5) scale(1,1.15)" font-size="4.2" fill="#222" stroke="#222" stroke-width="0.16" text-anchor="middle">4</text>
<text transform="translate(102.8,497.75) scale(1,1.15)" font-size="4.1" fill="#222" stroke="#222" stroke-width="0.1" text-anchor="middle">13</text>
<text transform="translate(102.8,501.55) scale(1,1.15)" font-size="4.1" fill="#222" stroke="#222" stroke-width="0.1" text-anchor="middle">13</text>
<line x1="102.8" y1="503.2" x2="102.8" y2="504.5" stroke="#666" stroke-width="0.6"/>
<text transform="translate(102.8,508.5) scale(1,1.15)" font-size="4.2" fill="#222" stroke="#222" stroke-width="0.16" text-anchor="middle">6</text>
<text transform="translate(128.3,497.75) scale(1,1.15)" font-size="4.1" fill="#222" stroke="#222" stroke-width="0.1" text-anchor="middle">2</text>
<text transform="translate(128.3,501.55) scale(1,1.15)" font-size="4.1" fill="#222" stroke="#222" stroke-width="0.1" text-anchor="middle">4</text>
<line x1="128.3" y1="503.2" x2="128.3" y2="504.5" stroke="#666" stroke-width="0.6"/>
<text transform="translate(128.3,508.5) scale(1,1.15)" font-size="4.2" fill="#222" stroke="#222" stroke-width="0.16" text-anchor="middle">8</text>
<text transform="translate(153.8,497.75) scale(1,1.15)" font-size="4.1" fill="#222" stroke="#222" stroke-width="0.1" text-anchor="middle">1</text>
<text transform="translate(153.8,501.55) scale(1,1.15)" font-size="4.1" fill="#222" stroke="#222" stroke-width="0.1" text-anchor="middle">2</text>
<line x1="153.8" y1="503.2" x2="153.8" y2="504.5" stroke="#666" stroke-width="0.6"/>
<text transform="translate(153.8,508.5) scale(1,1.15)" font-size="4.2" fill="#222" stroke="#222" stroke-width="0.16" text-anchor="middle">10</text>
<text transform="translate(90.1,514.6) scale(1,1.15)" font-size="5.2" fill="#222" stroke="#222" stroke-width="0.08" text-anchor="middle">Time(years)</text>
<text transform="translate(6.2,498.5) rotate(-90) scale(1,1)" font-size="4.9" fill="#222" stroke="#222" stroke-width="0.12" text-anchor="middle">PAQR4 levels</text>
</g>
<g font-family='"Liberation Sans", sans-serif'>
<text transform="translate(162.7,394.8) scale(0.95,1.17)" font-size="11.2" fill="#000" stroke="#000" stroke-width="0.3">N</text>
<text transform="translate(181.8,390.4) scale(1,1.1)" font-size="6.0" fill="#222" stroke="#222" stroke-width="0.1">Cancer: MESO</text>
<text transform="translate(220.5,400.8) scale(1,1.15)" font-size="4.25" fill="#222" stroke="#222" stroke-width="0.08">PAQR4 levels</text>
<text transform="translate(258,400.8) scale(1,1.15)" font-size="4.25" fill="#222" stroke="#222" stroke-width="0.08">high</text>
<text transform="translate(277.7,400.8) scale(1,1.15)" font-size="4.25" fill="#222" stroke="#222" stroke-width="0.08">low</text>
<line x1="249.8" y1="399.3" x2="254.6" y2="399.3" stroke="#ec2a2a" stroke-width="0.9"/>
<line x1="252.2" y1="398.2" x2="252.2" y2="400.4" stroke="#ec2a2a" stroke-width="0.8"/>
<line x1="269.2" y1="399.3" x2="274" y2="399.3" stroke="#2c3ff0" stroke-width="0.9"/>
<line x1="271.6" y1="398.2" x2="271.6" y2="400.4" stroke="#2c3ff0" stroke-width="0.8"/>
<path d="M181.7 409.6 L181.7 469.7 L321.9 469.7" fill="none" stroke="#666" stroke-width="1.2"/>
<text transform="translate(179.7,469) scale(1,1.15)" font-size="4.2" fill="#222" stroke="#222" stroke-width="0.16" text-anchor="end">0.00</text>
<line x1="180.4" y1="467.5" x2="181.7" y2="467.5" stroke="#666" stroke-width="0.6"/>
<text transform="translate(179.7,455.15) scale(1,1.15)" font-size="4.2" fill="#222" stroke="#222" stroke-width="0.16" text-anchor="end">0.25</text>
<line x1="180.4" y1="453.65" x2="181.7" y2="453.65" stroke="#666" stroke-width="0.6"/>
<text transform="translate(179.7,441.3) scale(1,1.15)" font-size="4.2" fill="#222" stroke="#222" stroke-width="0.16" text-anchor="end">0.50</text>
<line x1="180.4" y1="439.8" x2="181.7" y2="439.8" stroke="#666" stroke-width="0.6"/>
<text transform="translate(179.7,427.45) scale(1,1.15)" font-size="4.2" fill="#222" stroke="#222" stroke-width="0.16" text-anchor="end">0.75</text>
<line x1="180.4" y1="425.95" x2="181.7" y2="425.95" stroke="#666" stroke-width="0.6"/>
<text transform="translate(179.7,413.6) scale(1,1.15)" font-size="4.2" fill="#222" stroke="#222" stroke-width="0.16" text-anchor="end">1.00</text>
<line x1="180.4" y1="412.1" x2="181.7" y2="412.1" stroke="#666" stroke-width="0.6"/>
<text transform="translate(187.6,475.7) scale(1,1.15)" font-size="4.2" fill="#222" stroke="#222" stroke-width="0.16" text-anchor="middle">0</text>
<line x1="187.6" y1="469.7" x2="187.6" y2="471" stroke="#666" stroke-width="0.6"/>
<text transform="translate(219.4,475.7) scale(1,1.15)" font-size="4.2" fill="#222" stroke="#222" stroke-width="0.16" text-anchor="middle">2</text>
<line x1="219.4" y1="469.7" x2="219.4" y2="471" stroke="#666" stroke-width="0.6"/>
<text transform="translate(251.2,475.7) scale(1,1.15)" font-size="4.2" fill="#222" stroke="#222" stroke-width="0.16" text-anchor="middle">4</text>
<line x1="251.2" y1="469.7" x2="251.2" y2="471" stroke="#666" stroke-width="0.6"/>
<text transform="translate(283,475.7) scale(1,1.15)" font-size="4.2" fill="#222" stroke="#222" stroke-width="0.16" text-anchor="middle">6</text>
<line x1="283" y1="469.7" x2="283" y2="471" stroke="#666" stroke-width="0.6"/>
<text transform="translate(314.8,475.7) scale(1,1.15)" font-size="4.2" fill="#222" stroke="#222" stroke-width="0.16" text-anchor="middle">8</text>
<line x1="314.8" y1="469.7" x2="314.8" y2="471" stroke="#666" stroke-width="0.6"/>
<text transform="translate(252,480.9) scale(1,1.15)" font-size="5.2" fill="#222" stroke="#222" stroke-width="0.08" text-anchor="middle">Time(years)</text>
<text transform="translate(168.4,440.1) rotate(-90) scale(1,1)" font-size="5.15" fill="#222" stroke="#222" stroke-width="0.12" text-anchor="middle">Disease specific survival</text>
<text transform="translate(190.7,458.9) scale(1,1.05)" font-size="6.3" fill="#222" stroke="#222" stroke-width="0.05">p&lt;0.001</text>
<path d="M187.87 411.71 L189.96 411.71 L189.96 414.43 L191.43 414.43 L191.43 421.77 L194.58 421.77 L194.58 424.91 L197.72 424.91 L197.72 429.1 L200.86 429.1 L200.86 432.25 L202.96 432.25 L202.96 436.44 L204.64 436.44 L204.64 440.63 L206.73 440.63 L206.73 444.82 L209.25 444.82 L209.25 451.11 L218.68 451.11 L218.68 454.68 L222.87 454.68 L222.87 456.35 L226.02 456.35 L226.02 459.92 L244.46 459.92 L244.46 466.83" fill="none" stroke="#ec2a2a" stroke-width="1.05"/>
<line x1="241.74" y1="458.57" x2="241.74" y2="461.27" stroke="#ec2a2a" stroke-width="0.9"/>
<path d="M187.87 411.71 L190.38 411.71 L190.38 413.38 L194.58 413.38 L194.58 414.43 L198.77 414.43 L198.77 415.9 L204.01 415.9 L204.01 419.67 L207.15 419.67 L207.15 423.44 L213.44 423.44 L213.44 425.33 L216.58 425.33 L216.58 427.64 L219.73 427.64 L219.73 433.3 L223.92 433.3 L223.92 436.44 L226.02 436.44 L226.02 443.78 L238.17 443.78 L238.17 446.29 L262.7 446.29 L262.7 450.06 L310.27 450.06" fill="none" stroke="#2c3ff0" stroke-width="1.05"/>
<line x1="230.21" y1="442.43" x2="230.21" y2="445.13" stroke="#2c3ff0" stroke-width="0.9"/>
<line x1="239.64" y1="444.94" x2="239.64" y2="447.64" stroke="#2c3ff0" stroke-width="0.9"/>
<line x1="253.26" y1="444.94" x2="253.26" y2="447.64" stroke="#2c3ff0" stroke-width="0.9"/>
<line x1="271.71" y1="448.71" x2="271.71" y2="451.41" stroke="#2c3ff0" stroke-width="0.9"/>
<line x1="279.46" y1="448.71" x2="279.46" y2="451.41" stroke="#2c3ff0" stroke-width="0.9"/>
<line x1="290.99" y1="448.71" x2="290.99" y2="451.41" stroke="#2c3ff0" stroke-width="0.9"/>
<line x1="310.27" y1="448.71" x2="310.27" y2="451.41" stroke="#2c3ff0" stroke-width="0.9"/>
<path d="M181.7 495.1 L181.7 503.4 L321.9 503.4" fill="none" stroke="#666" stroke-width="1.2"/>
<text transform="translate(180.1,498.05) scale(1,1.15)" font-size="4.1" fill="#ec2a2a" stroke="#ec2a2a" stroke-width="0.06" text-anchor="end">high</text>
<text transform="translate(180.1,501.85) scale(1,1.15)" font-size="4.1" fill="#2c3ff0" stroke="#2c3ff0" stroke-width="0.06" text-anchor="end">low</text>
<text transform="translate(187.6,497.95) scale(1,1.15)" font-size="4.1" fill="#222" stroke="#222" stroke-width="0.1" text-anchor="middle">33</text>
<text transform="translate(187.6,501.75) scale(1,1.15)" font-size="4.1" fill="#222" stroke="#222" stroke-width="0.1" text-anchor="middle">33</text>
<line x1="187.6" y1="503.4" x2="187.6" y2="504.7" stroke="#666" stroke-width="0.6"/>
<text transform="translate(187.6,508.7) scale(1,1.15)" font-size="4.2" fill="#222" stroke="#222" stroke-width="0.16" text-anchor="middle">0</text>
<text transform="translate(219.4,497.95) scale(1,1.15)" font-size="4.1" fill="#222" stroke="#222" stroke-width="0.1" text-anchor="middle">6</text>
<text transform="translate(219.4,501.75) scale(1,1.15)" font-size="4.1" fill="#222" stroke="#222" stroke-width="0.1" text-anchor="middle">18</text>
<line x1="219.4" y1="503.4" x2="219.4" y2="504.7" stroke="#666" stroke-width="0.6"/>
<text transform="translate(219.4,508.7) scale(1,1.15)" font-size="4.2" fill="#222" stroke="#222" stroke-width="0.16" text-anchor="middle">2</text>
<text transform="translate(251.2,497.95) scale(1,1.15)" font-size="4.1" fill="#222" stroke="#222" stroke-width="0.1" text-anchor="middle">0</text>
<text transform="translate(251.2,501.75) scale(1,1.15)" font-size="4.1" fill="#222" stroke="#222" stroke-width="0.1" text-anchor="middle">5</text>
<line x1="251.2" y1="503.4" x2="251.2" y2="504.7" stroke="#666" stroke-width="0.6"/>
<text transform="translate(251.2,508.7) scale(1,1.15)" font-size="4.2" fill="#222" stroke="#222" stroke-width="0.16" text-anchor="middle">4</text>
<text transform="translate(283,497.95) scale(1,1.15)" font-size="4.1" fill="#222" stroke="#222" stroke-width="0.1" text-anchor="middle">0</text>
<text transform="translate(283,501.75) scale(1,1.15)" font-size="4.1" fill="#222" stroke="#222" stroke-width="0.1" text-anchor="middle">2</text>
<line x1="283" y1="503.4" x2="283" y2="504.7" stroke="#666" stroke-width="0.6"/>
<text transform="translate(283,508.7) scale(1,1.15)" font-size="4.2" fill="#222" stroke="#222" stroke-width="0.16" text-anchor="middle">6</text>
<text transform="translate(314.8,497.95) scale(1,1.15)" font-size="4.1" fill="#222" stroke="#222" stroke-width="0.1" text-anchor="middle">0</text>
<text transform="translate(314.8,501.75) scale(1,1.15)" font-size="4.1" fill="#222" stroke="#222" stroke-width="0.1" text-anchor="middle">0</text>
<line x1="314.8" y1="503.4" x2="314.8" y2="504.7" stroke="#666" stroke-width="0.6"/>
<text transform="translate(314.8,508.7) scale(1,1.15)" font-size="4.2" fill="#222" stroke="#222" stroke-width="0.16" text-anchor="middle">8</text>
<text transform="translate(252,514.8) scale(1,1.15)" font-size="5.2" fill="#222" stroke="#222" stroke-width="0.08" text-anchor="middle">Time(years)</text>
<text transform="translate(168.1,498.7) rotate(-90) scale(1,1)" font-size="4.9" fill="#222" stroke="#222" stroke-width="0.12" text-anchor="middle">PAQR4 levels</text>
</g>
<g font-family='"Liberation Sans", sans-serif'>
<text transform="translate(323.4,393.9) scale(0.95,1.17)" font-size="11.2" fill="#000" stroke="#000" stroke-width="0.3">O</text>
<text transform="translate(343.4,390.8) scale(1,1.1)" font-size="6.0" fill="#222" stroke="#222" stroke-width="0.1">Cancer: UCEC</text>
<text transform="translate(382.1,401.5) scale(1,1.15)" font-size="4.25" fill="#222" stroke="#222" stroke-width="0.08">PAQR4 levels</text>
<text transform="translate(419.6,401.5) scale(1,1.15)" font-size="4.25" fill="#222" stroke="#222" stroke-width="0.08">high</text>
<text transform="translate(439.3,401.5) scale(1,1.15)" font-size="4.25" fill="#222" stroke="#222" stroke-width="0.08">low</text>
<line x1="411.4" y1="400" x2="416.2" y2="400" stroke="#ec2a2a" stroke-width="0.9"/>
<line x1="413.8" y1="398.9" x2="413.8" y2="401.1" stroke="#ec2a2a" stroke-width="0.8"/>
<line x1="430.8" y1="400" x2="435.6" y2="400" stroke="#2c3ff0" stroke-width="0.9"/>
<line x1="433.2" y1="398.9" x2="433.2" y2="401.1" stroke="#2c3ff0" stroke-width="0.8"/>
<path d="M343.3 409.8 L343.3 470 L483.5 470" fill="none" stroke="#666" stroke-width="1.2"/>
<text transform="translate(341.3,469.5) scale(1,1.15)" font-size="4.2" fill="#222" stroke="#222" stroke-width="0.16" text-anchor="end">0.00</text>
<line x1="342" y1="468" x2="343.3" y2="468" stroke="#666" stroke-width="0.6"/>
<text transform="translate(341.3,455.57) scale(1,1.15)" font-size="4.2" fill="#222" stroke="#222" stroke-width="0.16" text-anchor="end">0.25</text>
<line x1="342" y1="454.07" x2="343.3" y2="454.07" stroke="#666" stroke-width="0.6"/>
<text transform="translate(341.3,441.65) scale(1,1.15)" font-size="4.2" fill="#222" stroke="#222" stroke-width="0.16" text-anchor="end">0.50</text>
<line x1="342" y1="440.15" x2="343.3" y2="440.15" stroke="#666" stroke-width="0.6"/>
<text transform="translate(341.3,427.73) scale(1,1.15)" font-size="4.2" fill="#222" stroke="#222" stroke-width="0.16" text-anchor="end">0.75</text>
<line x1="342" y1="426.23" x2="343.3" y2="426.23" stroke="#666" stroke-width="0.6"/>
<text transform="translate(341.3,413.8) scale(1,1.15)" font-size="4.2" fill="#222" stroke="#222" stroke-width="0.16" text-anchor="end">1.00</text>
<line x1="342" y1="412.3" x2="343.3" y2="412.3" stroke="#666" stroke-width="0.6"/>
<text transform="translate(349.3,476.1) scale(1,1.15)" font-size="4.2" fill="#222" stroke="#222" stroke-width="0.16" text-anchor="middle">0</text>
<line x1="349.3" y1="470" x2="349.3" y2="471.3" stroke="#666" stroke-width="0.6"/>
<text transform="translate(362.04,476.1) scale(1,1.15)" font-size="4.2" fill="#222" stroke="#222" stroke-width="0.16" text-anchor="middle">2</text>
<line x1="362.04" y1="470" x2="362.04" y2="471.3" stroke="#666" stroke-width="0.6"/>
<text transform="translate(374.78,476.1) scale(1,1.15)" font-size="4.2" fill="#222" stroke="#222" stroke-width="0.16" text-anchor="middle">4</text>
<line x1="374.78" y1="470" x2="374.78" y2="471.3" stroke="#666" stroke-width="0.6"/>
<text transform="translate(387.52,476.1) scale(1,1.15)" font-size="4.2" fill="#222" stroke="#222" stroke-width="0.16" text-anchor="middle">6</text>
<line x1="387.52" y1="470" x2="387.52" y2="471.3" stroke="#666" stroke-width="0.6"/>
<text transform="translate(400.26,476.1) scale(1,1.15)" font-size="4.2" fill="#222" stroke="#222" stroke-width="0.16" text-anchor="middle">8</text>
<line x1="400.26" y1="470" x2="400.26" y2="471.3" stroke="#666" stroke-width="0.6"/>
<text transform="translate(413,476.1) scale(1,1.15)" font-size="4.2" fill="#222" stroke="#222" stroke-width="0.16" text-anchor="middle">10</text>
<line x1="413" y1="470" x2="413" y2="471.3" stroke="#666" stroke-width="0.6"/>
<text transform="translate(425.74,476.1) scale(1,1.15)" font-size="4.2" fill="#222" stroke="#222" stroke-width="0.16" text-anchor="middle">12</text>
<line x1="425.74" y1="470" x2="425.74" y2="471.3" stroke="#666" stroke-width="0.6"/>
<text transform="translate(438.48,476.1) scale(1,1.15)" font-size="4.2" fill="#222" stroke="#222" stroke-width="0.16" text-anchor="middle">14</text>
<line x1="438.48" y1="470" x2="438.48" y2="471.3" stroke="#666" stroke-width="0.6"/>
<text transform="translate(451.22,476.1) scale(1,1.15)" font-size="4.2" fill="#222" stroke="#222" stroke-width="0.16" text-anchor="middle">16</text>
<line x1="451.22" y1="470" x2="451.22" y2="471.3" stroke="#666" stroke-width="0.6"/>
<text transform="translate(463.96,476.1) scale(1,1.15)" font-size="4.2" fill="#222" stroke="#222" stroke-width="0.16" text-anchor="middle">18</text>
<line x1="463.96" y1="470" x2="463.96" y2="471.3" stroke="#666" stroke-width="0.6"/>
<text transform="translate(476.7,476.1) scale(1,1.15)" font-size="4.2" fill="#222" stroke="#222" stroke-width="0.16" text-anchor="middle">20</text>
<line x1="476.7" y1="470" x2="476.7" y2="471.3" stroke="#666" stroke-width="0.6"/>
<text transform="translate(413.6,481.2) scale(1,1.15)" font-size="5.2" fill="#222" stroke="#222" stroke-width="0.08" text-anchor="middle">Time(years)</text>
<text transform="translate(330,440.45) rotate(-90) scale(1,1)" font-size="5.15" fill="#222" stroke="#222" stroke-width="0.12" text-anchor="middle">Disease specific survival</text>
<text transform="translate(352.3,459.4) scale(1,1.05)" font-size="6.3" fill="#222" stroke="#222" stroke-width="0.05">p=0.002</text>
<path d="M349.24 412.34 L351.69 412.34 L351.69 412.69 L354.13 412.69 L354.13 413.03 L356.58 413.03 L356.58 413.38 L359.37 413.38 L359.37 413.73 L362.17 413.73 L362.17 414.08 L364.96 414.08 L364.96 414.43 L367.06 414.43 L367.06 416.53 L370.2 416.53 L370.2 418.62 L448.8 418.62" fill="none" stroke="#ec2a2a" stroke-width="1.05"/>
<line x1="352.38" y1="411.34" x2="352.38" y2="414.04" stroke="#ec2a2a" stroke-width="0.9"/>
<line x1="354.48" y1="411.68" x2="354.48" y2="414.38" stroke="#ec2a2a" stroke-width="0.9"/>
<line x1="356.58" y1="412.03" x2="356.58" y2="414.73" stroke="#ec2a2a" stroke-width="0.9"/>
<line x1="358.67" y1="412.03" x2="358.67" y2="414.73" stroke="#ec2a2a" stroke-width="0.9"/>
<line x1="360.77" y1="412.38" x2="360.77" y2="415.08" stroke="#ec2a2a" stroke-width="0.9"/>
<line x1="362.86" y1="412.73" x2="362.86" y2="415.43" stroke="#ec2a2a" stroke-width="0.9"/>
<line x1="364.96" y1="413.08" x2="364.96" y2="415.78" stroke="#ec2a2a" stroke-width="0.9"/>
<line x1="367.06" y1="415.18" x2="367.06" y2="417.88" stroke="#ec2a2a" stroke-width="0.9"/>
<line x1="369.15" y1="415.18" x2="369.15" y2="417.88" stroke="#ec2a2a" stroke-width="0.9"/>
<line x1="371.25" y1="417.27" x2="371.25" y2="419.97" stroke="#ec2a2a" stroke-width="0.9"/>
<line x1="373.34" y1="417.27" x2="373.34" y2="419.97" stroke="#ec2a2a" stroke-width="0.9"/>
<line x1="375.44" y1="417.27" x2="375.44" y2="419.97" stroke="#ec2a2a" stroke-width="0.9"/>
<line x1="377.54" y1="417.27" x2="377.54" y2="419.97" stroke="#ec2a2a" stroke-width="0.9"/>
<line x1="379.63" y1="417.27" x2="379.63" y2="419.97" stroke="#ec2a2a" stroke-width="0.9"/>
<line x1="381.73" y1="417.27" x2="381.73" y2="419.97" stroke="#ec2a2a" stroke-width="0.9"/>
<line x1="383.82" y1="417.27" x2="383.82" y2="419.97" stroke="#ec2a2a" stroke-width="0.9"/>
<line x1="385.92" y1="417.27" x2="385.92" y2="419.97" stroke="#ec2a2a" stroke-width="0.9"/>
<line x1="388.02" y1="417.27" x2="388.02" y2="419.97" stroke="#ec2a2a" stroke-width="0.9"/>
<line x1="390.11" y1="417.27" x2="390.11" y2="419.97" stroke="#ec2a2a" stroke-width="0.9"/>
<line x1="392.21" y1="417.27" x2="392.21" y2="419.97" stroke="#ec2a2a" stroke-width="0.9"/>
<line x1="394.3" y1="417.27" x2="394.3" y2="419.97" stroke="#ec2a2a" stroke-width="0.9"/>
<line x1="396.4" y1="417.27" x2="396.4" y2="419.97" stroke="#ec2a2a" stroke-width="0.9"/>
<line x1="402.69" y1="417.27" x2="402.69" y2="419.97" stroke="#ec2a2a" stroke-width="0.9"/>
<line x1="405.83" y1="417.27" x2="405.83" y2="419.97" stroke="#ec2a2a" stroke-width="0.9"/>
<line x1="408.98" y1="417.27" x2="408.98" y2="419.97" stroke="#ec2a2a" stroke-width="0.9"/>
<line x1="415.26" y1="417.27" x2="415.26" y2="419.97" stroke="#ec2a2a" stroke-width="0.9"/>
<line x1="418.41" y1="417.27" x2="418.41" y2="419.97" stroke="#ec2a2a" stroke-width="0.9"/>
<line x1="422.6" y1="417.27" x2="422.6" y2="419.97" stroke="#ec2a2a" stroke-width="0.9"/>
<line x1="429.94" y1="417.27" x2="429.94" y2="419.97" stroke="#ec2a2a" stroke-width="0.9"/>
<line x1="448.8" y1="417.27" x2="448.8" y2="419.97" stroke="#ec2a2a" stroke-width="0.9"/>
<path d="M349.24 412.34 L351.86 412.34 L351.86 413.38 L354.48 413.38 L354.48 414.43 L357.1 414.43 L357.1 416.21 L359.72 416.21 L359.72 418 L362.34 418 L362.34 419.04 L364.96 419.04 L364.96 420.09 L367.58 420.09 L367.58 421.14 L370.2 421.14 L370.2 422.19 L372.82 422.19 L372.82 423.24 L375.44 423.24 L375.44 424.28 L377.54 424.28 L377.54 424.7 L379.63 424.7 L379.63 425.12 L381.73 425.12 L381.73 425.54 L384.52 425.54 L384.52 425.68 L387.32 425.68 L387.32 425.82 L390.11 425.82 L390.11 425.96 L392.21 425.96 L392.21 426.48 L394.3 426.48 L394.3 427.01 L397.1 427.01 L397.1 427.15 L399.89 427.15 L399.89 427.29 L402.69 427.29 L402.69 427.43 L403.74 427.43 L403.74 431.2 L469.76 431.2" fill="none" stroke="#2c3ff0" stroke-width="1.05"/>
<line x1="352.38" y1="412.03" x2="352.38" y2="414.73" stroke="#2c3ff0" stroke-width="0.9"/>
<line x1="354.69" y1="413.08" x2="354.69" y2="415.78" stroke="#2c3ff0" stroke-width="0.9"/>
<line x1="357" y1="413.08" x2="357" y2="415.78" stroke="#2c3ff0" stroke-width="0.9"/>
<line x1="359.3" y1="414.86" x2="359.3" y2="417.56" stroke="#2c3ff0" stroke-width="0.9"/>
<line x1="361.61" y1="416.65" x2="361.61" y2="419.35" stroke="#2c3ff0" stroke-width="0.9"/>
<line x1="363.91" y1="417.69" x2="363.91" y2="420.39" stroke="#2c3ff0" stroke-width="0.9"/>
<line x1="366.22" y1="418.74" x2="366.22" y2="421.44" stroke="#2c3ff0" stroke-width="0.9"/>
<line x1="368.52" y1="419.79" x2="368.52" y2="422.49" stroke="#2c3ff0" stroke-width="0.9"/>
<line x1="370.83" y1="420.84" x2="370.83" y2="423.54" stroke="#2c3ff0" stroke-width="0.9"/>
<line x1="373.13" y1="421.89" x2="373.13" y2="424.59" stroke="#2c3ff0" stroke-width="0.9"/>
<line x1="375.44" y1="422.93" x2="375.44" y2="425.63" stroke="#2c3ff0" stroke-width="0.9"/>
<line x1="377.75" y1="423.35" x2="377.75" y2="426.05" stroke="#2c3ff0" stroke-width="0.9"/>
<line x1="380.05" y1="423.77" x2="380.05" y2="426.47" stroke="#2c3ff0" stroke-width="0.9"/>
<line x1="382.36" y1="424.19" x2="382.36" y2="426.89" stroke="#2c3ff0" stroke-width="0.9"/>
<line x1="384.66" y1="424.33" x2="384.66" y2="427.03" stroke="#2c3ff0" stroke-width="0.9"/>
<line x1="386.97" y1="424.33" x2="386.97" y2="427.03" stroke="#2c3ff0" stroke-width="0.9"/>
<line x1="389.27" y1="424.47" x2="389.27" y2="427.17" stroke="#2c3ff0" stroke-width="0.9"/>
<line x1="391.58" y1="424.61" x2="391.58" y2="427.31" stroke="#2c3ff0" stroke-width="0.9"/>
<line x1="393.88" y1="425.13" x2="393.88" y2="427.83" stroke="#2c3ff0" stroke-width="0.9"/>
<line x1="396.19" y1="425.66" x2="396.19" y2="428.36" stroke="#2c3ff0" stroke-width="0.9"/>
<line x1="398.5" y1="425.8" x2="398.5" y2="428.5" stroke="#2c3ff0" stroke-width="0.9"/>
<line x1="400.8" y1="425.94" x2="400.8" y2="428.64" stroke="#2c3ff0" stroke-width="0.9"/>
<line x1="405.83" y1="429.85" x2="405.83" y2="432.55" stroke="#2c3ff0" stroke-width="0.9"/>
<line x1="407.93" y1="429.85" x2="407.93" y2="432.55" stroke="#2c3ff0" stroke-width="0.9"/>
<line x1="410.02" y1="429.85" x2="410.02" y2="432.55" stroke="#2c3ff0" stroke-width="0.9"/>
<line x1="412.12" y1="429.85" x2="412.12" y2="432.55" stroke="#2c3ff0" stroke-width="0.9"/>
<line x1="469.76" y1="429.85" x2="469.76" y2="432.55" stroke="#2c3ff0" stroke-width="0.9"/>
<path d="M343.3 496.1 L343.3 504.4 L483.5 504.4" fill="none" stroke="#666" stroke-width="1.2"/>
<text transform="translate(341.7,499.05) scale(1,1.15)" font-size="4.1" fill="#ec2a2a" stroke="#ec2a2a" stroke-width="0.06" text-anchor="end">high</text>
<text transform="translate(341.7,502.85) scale(1,1.15)" font-size="4.1" fill="#2c3ff0" stroke="#2c3ff0" stroke-width="0.06" text-anchor="end">low</text>
<text transform="translate(349.3,498.95) scale(1,1.15)" font-size="4.1" fill="#222" stroke="#222" stroke-width="0.1" text-anchor="middle">273</text>
<text transform="translate(349.3,502.75) scale(1,1.15)" font-size="4.1" fill="#222" stroke="#222" stroke-width="0.1" text-anchor="middle">271</text>
<line x1="349.3" y1="504.4" x2="349.3" y2="505.7" stroke="#666" stroke-width="0.6"/>
<text transform="translate(349.3,509.7) scale(1,1.15)" font-size="4.2" fill="#222" stroke="#222" stroke-width="0.16" text-anchor="middle">0</text>
<text transform="translate(362.04,498.95) scale(1,1.15)" font-size="4.1" fill="#222" stroke="#222" stroke-width="0.1" text-anchor="middle">160</text>
<text transform="translate(362.04,502.75) scale(1,1.15)" font-size="4.1" fill="#222" stroke="#222" stroke-width="0.1" text-anchor="middle">158</text>
<line x1="362.04" y1="504.4" x2="362.04" y2="505.7" stroke="#666" stroke-width="0.6"/>
<text transform="translate(362.04,509.7) scale(1,1.15)" font-size="4.2" fill="#222" stroke="#222" stroke-width="0.16" text-anchor="middle">2</text>
<text transform="translate(374.78,498.95) scale(1,1.15)" font-size="4.1" fill="#222" stroke="#222" stroke-width="0.1" text-anchor="middle">76</text>
<text transform="translate(374.78,502.75) scale(1,1.15)" font-size="4.1" fill="#222" stroke="#222" stroke-width="0.1" text-anchor="middle">81</text>
<line x1="374.78" y1="504.4" x2="374.78" y2="505.7" stroke="#666" stroke-width="0.6"/>
<text transform="translate(374.78,509.7) scale(1,1.15)" font-size="4.2" fill="#222" stroke="#222" stroke-width="0.16" text-anchor="middle">4</text>
<text transform="translate(387.52,498.95) scale(1,1.15)" font-size="4.1" fill="#222" stroke="#222" stroke-width="0.1" text-anchor="middle">34</text>
<text transform="translate(387.52,502.75) scale(1,1.15)" font-size="4.1" fill="#222" stroke="#222" stroke-width="0.1" text-anchor="middle">48</text>
<line x1="387.52" y1="504.4" x2="387.52" y2="505.7" stroke="#666" stroke-width="0.6"/>
<text transform="translate(387.52,509.7) scale(1,1.15)" font-size="4.2" fill="#222" stroke="#222" stroke-width="0.16" text-anchor="middle">6</text>
<text transform="translate(400.26,498.95) scale(1,1.15)" font-size="4.1" fill="#222" stroke="#222" stroke-width="0.1" text-anchor="middle">11</text>
<text transform="translate(400.26,502.75) scale(1,1.15)" font-size="4.1" fill="#222" stroke="#222" stroke-width="0.1" text-anchor="middle">14</text>
<line x1="400.26" y1="504.4" x2="400.26" y2="505.7" stroke="#666" stroke-width="0.6"/>
<text transform="translate(400.26,509.7) scale(1,1.15)" font-size="4.2" fill="#222" stroke="#222" stroke-width="0.16" text-anchor="middle">8</text>
<text transform="translate(413,498.95) scale(1,1.15)" font-size="4.1" fill="#222" stroke="#222" stroke-width="0.1" text-anchor="middle">6</text>
<text transform="translate(413,502.75) scale(1,1.15)" font-size="4.1" fill="#222" stroke="#222" stroke-width="0.1" text-anchor="middle">1</text>
<line x1="413" y1="504.4" x2="413" y2="505.7" stroke="#666" stroke-width="0.6"/>
<text transform="translate(413,509.7) scale(1,1.15)" font-size="4.2" fill="#222" stroke="#222" stroke-width="0.16" text-anchor="middle">10</text>
<text transform="translate(425.74,498.95) scale(1,1.15)" font-size="4.1" fill="#222" stroke="#222" stroke-width="0.1" text-anchor="middle">2</text>
<text transform="translate(425.74,502.75) scale(1,1.15)" font-size="4.1" fill="#222" stroke="#222" stroke-width="0.1" text-anchor="middle">1</text>
<line x1="425.74" y1="504.4" x2="425.74" y2="505.7" stroke="#666" stroke-width="0.6"/>
<text transform="translate(425.74,509.7) scale(1,1.15)" font-size="4.2" fill="#222" stroke="#222" stroke-width="0.16" text-anchor="middle">12</text>
<text transform="translate(438.48,498.95) scale(1,1.15)" font-size="4.1" fill="#222" stroke="#222" stroke-width="0.1" text-anchor="middle">1</text>
<text transform="translate(438.48,502.75) scale(1,1.15)" font-size="4.1" fill="#222" stroke="#222" stroke-width="0.1" text-anchor="middle">1</text>
<line x1="438.48" y1="504.4" x2="438.48" y2="505.7" stroke="#666" stroke-width="0.6"/>
<text transform="translate(438.48,509.7) scale(1,1.15)" font-size="4.2" fill="#222" stroke="#222" stroke-width="0.16" text-anchor="middle">14</text>
<text transform="translate(451.22,498.95) scale(1,1.15)" font-size="4.1" fill="#222" stroke="#222" stroke-width="0.1" text-anchor="middle">0</text>
<text transform="translate(451.22,502.75) scale(1,1.15)" font-size="4.1" fill="#222" stroke="#222" stroke-width="0.1" text-anchor="middle">1</text>
<line x1="451.22" y1="504.4" x2="451.22" y2="505.7" stroke="#666" stroke-width="0.6"/>
<text transform="translate(451.22,509.7) scale(1,1.15)" font-size="4.2" fill="#222" stroke="#222" stroke-width="0.16" text-anchor="middle">16</text>
<text transform="translate(463.96,498.95) scale(1,1.15)" font-size="4.1" fill="#222" stroke="#222" stroke-width="0.1" text-anchor="middle">0</text>
<text transform="translate(463.96,502.75) scale(1,1.15)" font-size="4.1" fill="#222" stroke="#222" stroke-width="0.1" text-anchor="middle">1</text>
<line x1="463.96" y1="504.4" x2="463.96" y2="505.7" stroke="#666" stroke-width="0.6"/>
<text transform="translate(463.96,509.7) scale(1,1.15)" font-size="4.2" fill="#222" stroke="#222" stroke-width="0.16" text-anchor="middle">18</text>
<text transform="translate(476.7,498.95) scale(1,1.15)" font-size="4.1" fill="#222" stroke="#222" stroke-width="0.1" text-anchor="middle">0</text>
<text transform="translate(476.7,502.75) scale(1,1.15)" font-size="4.1" fill="#222" stroke="#222" stroke-width="0.1" text-anchor="middle">0</text>
<line x1="476.7" y1="504.4" x2="476.7" y2="505.7" stroke="#666" stroke-width="0.6"/>
<text transform="translate(476.7,509.7) scale(1,1.15)" font-size="4.2" fill="#222" stroke="#222" stroke-width="0.16" text-anchor="middle">20</text>
<text transform="translate(413.6,515.8) scale(1,1.15)" font-size="5.2" fill="#222" stroke="#222" stroke-width="0.08" text-anchor="middle">Time(years)</text>
<text transform="translate(329.7,499.7) rotate(-90) scale(1,1)" font-size="4.9" fill="#222" stroke="#222" stroke-width="0.12" text-anchor="middle">PAQR4 levels</text>
</g>
</svg>
</body></html>
